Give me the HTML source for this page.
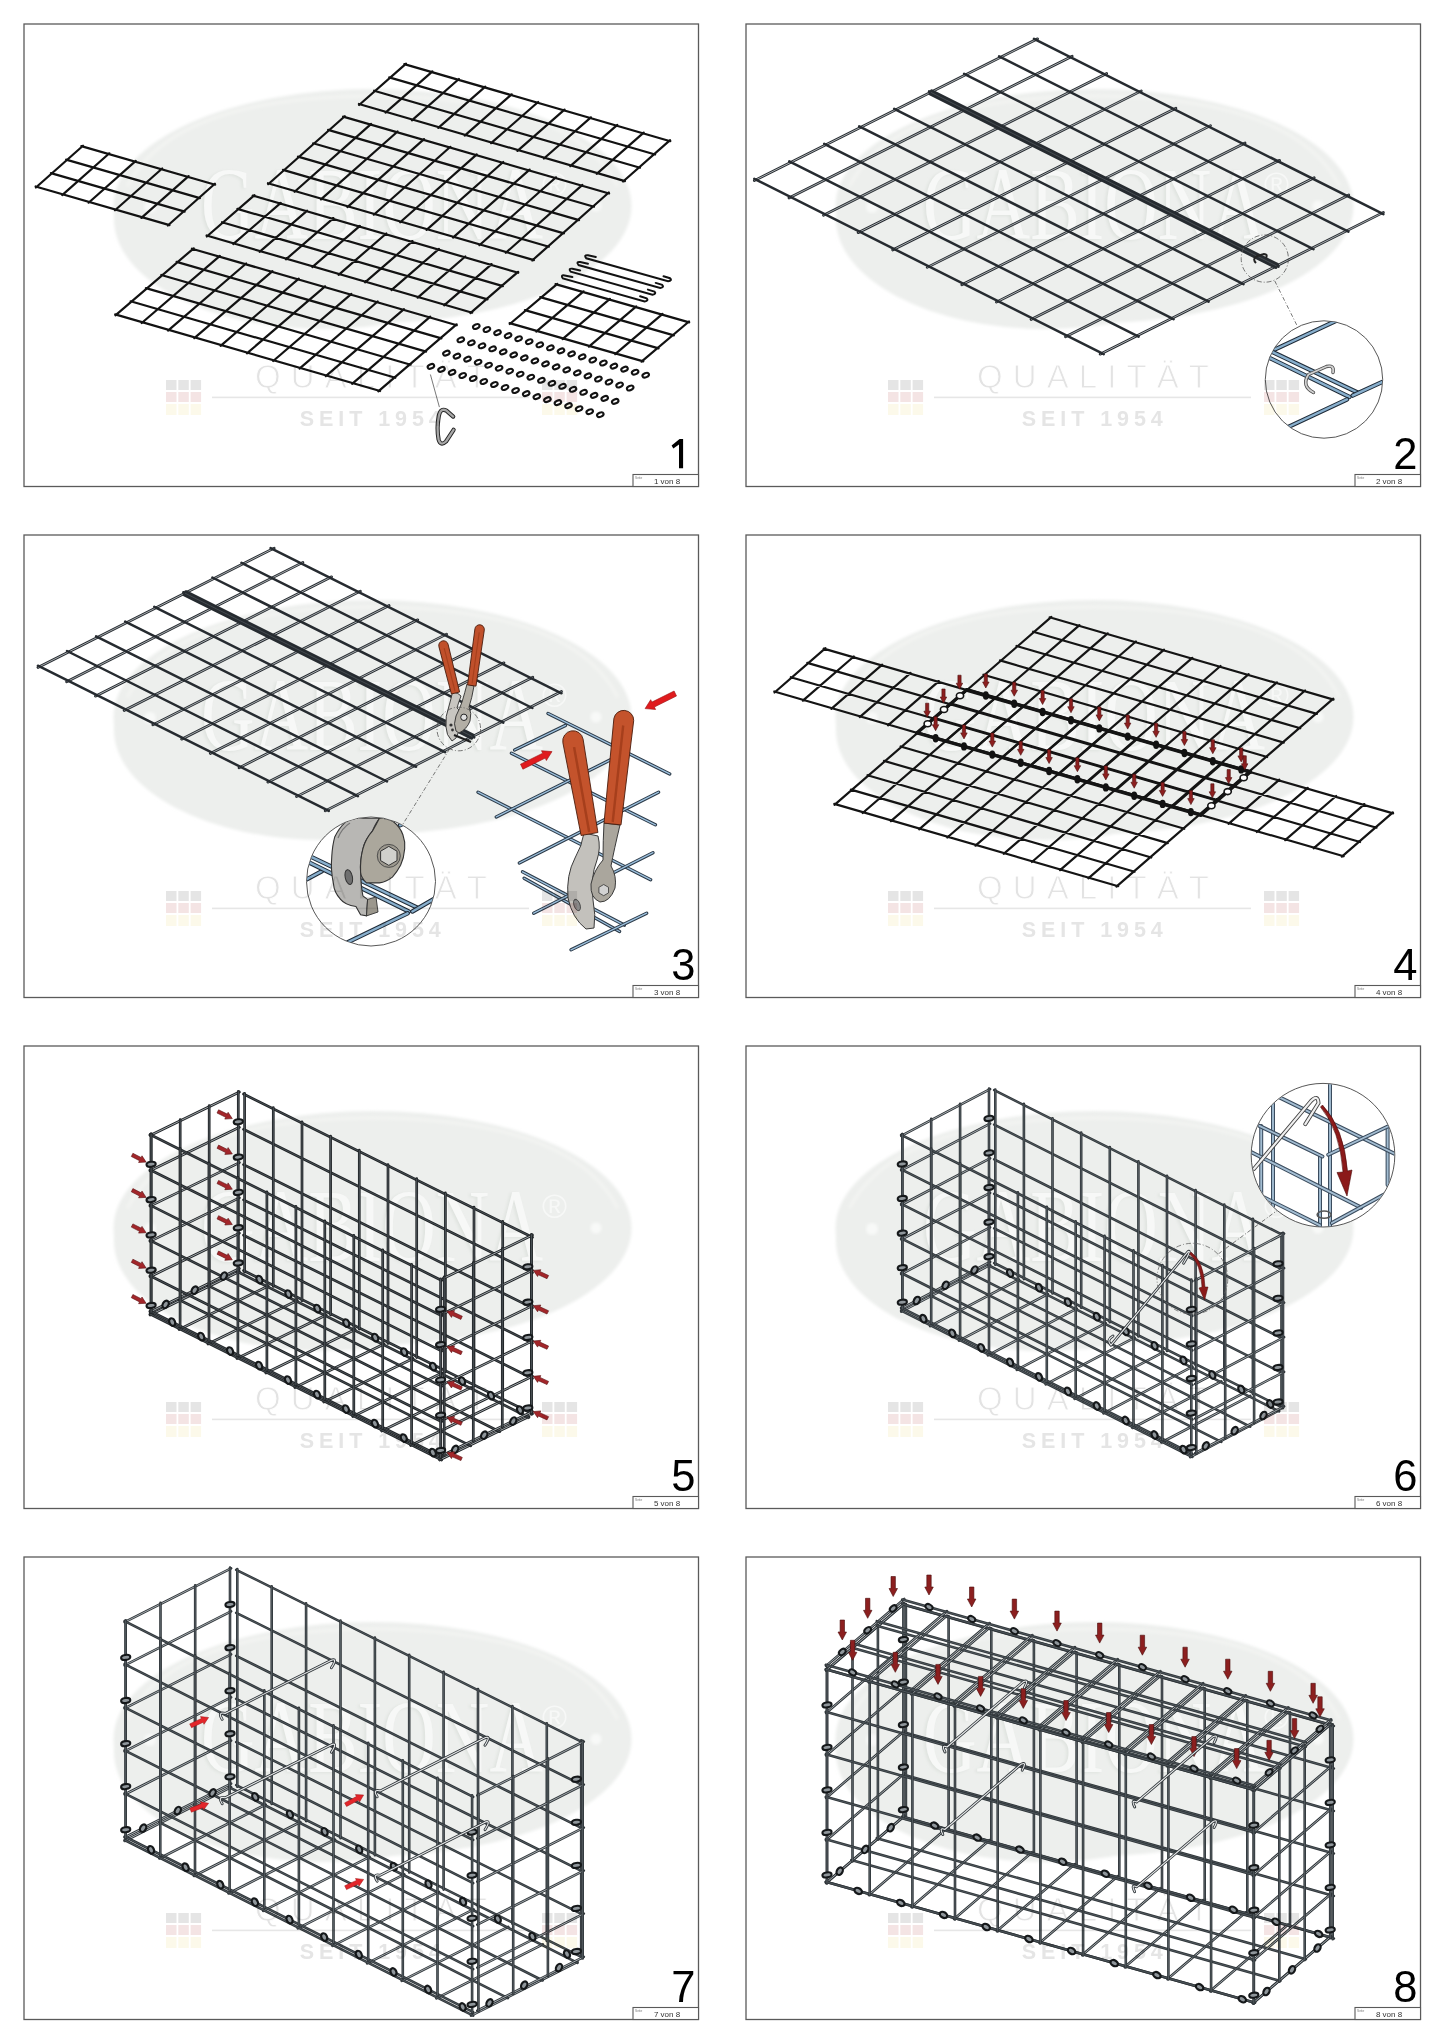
<!DOCTYPE html><html><head><meta charset="utf-8"><title>Gabiona</title><style>html,body{margin:0;padding:0;background:#fff;width:1445px;height:2043px;overflow:hidden}svg{display:block}text{font-family:"Liberation Sans",sans-serif}</style></head><body><svg width="1445" height="2043" viewBox="0 0 1445 2043"><defs><filter id="blur1" x="-5%" y="-5%" width="110%" height="110%"><feGaussianBlur stdDeviation="1.6"/></filter></defs><rect width="1445" height="2043" fill="#fff"/><g filter="url(#blur1)" fill="#edefed"><ellipse cx="372.5" cy="206.0" rx="259.0" ry="117.0"/><ellipse cx="324.0" cy="219.0" rx="210" ry="110"/></g><path d="M127.5,186.0Q173.5,97.0 372.5,96.0Q571.5,97.0 617.5,186.0" fill="none" stroke="#f3f4f2" stroke-width="3" filter="url(#blur1)"/><text x="199.0" y="240.0" style="font-family:'Liberation Serif',serif" font-size="104" fill="#dfe3df" textLength="342" lengthAdjust="spacingAndGlyphs" filter="url(#blur1)">GABIONA</text><text x="201.0" y="239.0" style="font-family:'Liberation Serif',serif" font-size="104" fill="#f7f8f7" textLength="342" lengthAdjust="spacingAndGlyphs">GABIONA</text><text x="542.0" y="196.0" font-size="34" fill="#f7f8f7">&#174;</text><circle cx="150.0" cy="207.0" r="6" fill="#f8f9f8" filter="url(#blur1)"/><circle cx="596.0" cy="206.0" r="5.5" fill="#f8f9f8" filter="url(#blur1)"/><g filter="url(#blur1)" fill="#edefed"><ellipse cx="1094.5" cy="206.0" rx="259.0" ry="117.0"/><ellipse cx="1046.0" cy="219.0" rx="210" ry="110"/></g><path d="M849.5,186.0Q895.5,97.0 1094.5,96.0Q1293.5,97.0 1339.5,186.0" fill="none" stroke="#f3f4f2" stroke-width="3" filter="url(#blur1)"/><text x="921.0" y="240.0" style="font-family:'Liberation Serif',serif" font-size="104" fill="#dfe3df" textLength="342" lengthAdjust="spacingAndGlyphs" filter="url(#blur1)">GABIONA</text><text x="923.0" y="239.0" style="font-family:'Liberation Serif',serif" font-size="104" fill="#f7f8f7" textLength="342" lengthAdjust="spacingAndGlyphs">GABIONA</text><text x="1264.0" y="196.0" font-size="34" fill="#f7f8f7">&#174;</text><circle cx="872.0" cy="207.0" r="6" fill="#f8f9f8" filter="url(#blur1)"/><circle cx="1318.0" cy="206.0" r="5.5" fill="#f8f9f8" filter="url(#blur1)"/><g filter="url(#blur1)" fill="#edefed"><ellipse cx="372.5" cy="717.0" rx="259.0" ry="117.0"/><ellipse cx="324.0" cy="730.0" rx="210" ry="110"/></g><path d="M127.5,697.0Q173.5,608.0 372.5,607.0Q571.5,608.0 617.5,697.0" fill="none" stroke="#f3f4f2" stroke-width="3" filter="url(#blur1)"/><text x="199.0" y="751.0" style="font-family:'Liberation Serif',serif" font-size="104" fill="#dfe3df" textLength="342" lengthAdjust="spacingAndGlyphs" filter="url(#blur1)">GABIONA</text><text x="201.0" y="750.0" style="font-family:'Liberation Serif',serif" font-size="104" fill="#f7f8f7" textLength="342" lengthAdjust="spacingAndGlyphs">GABIONA</text><text x="542.0" y="707.0" font-size="34" fill="#f7f8f7">&#174;</text><circle cx="150.0" cy="718.0" r="6" fill="#f8f9f8" filter="url(#blur1)"/><circle cx="596.0" cy="717.0" r="5.5" fill="#f8f9f8" filter="url(#blur1)"/><g filter="url(#blur1)" fill="#edefed"><ellipse cx="1094.5" cy="717.0" rx="259.0" ry="117.0"/><ellipse cx="1046.0" cy="730.0" rx="210" ry="110"/></g><path d="M849.5,697.0Q895.5,608.0 1094.5,607.0Q1293.5,608.0 1339.5,697.0" fill="none" stroke="#f3f4f2" stroke-width="3" filter="url(#blur1)"/><text x="921.0" y="751.0" style="font-family:'Liberation Serif',serif" font-size="104" fill="#dfe3df" textLength="342" lengthAdjust="spacingAndGlyphs" filter="url(#blur1)">GABIONA</text><text x="923.0" y="750.0" style="font-family:'Liberation Serif',serif" font-size="104" fill="#f7f8f7" textLength="342" lengthAdjust="spacingAndGlyphs">GABIONA</text><text x="1264.0" y="707.0" font-size="34" fill="#f7f8f7">&#174;</text><circle cx="872.0" cy="718.0" r="6" fill="#f8f9f8" filter="url(#blur1)"/><circle cx="1318.0" cy="717.0" r="5.5" fill="#f8f9f8" filter="url(#blur1)"/><g filter="url(#blur1)" fill="#edefed"><ellipse cx="372.5" cy="1228.0" rx="259.0" ry="117.0"/><ellipse cx="324.0" cy="1241.0" rx="210" ry="110"/></g><path d="M127.5,1208.0Q173.5,1119.0 372.5,1118.0Q571.5,1119.0 617.5,1208.0" fill="none" stroke="#f3f4f2" stroke-width="3" filter="url(#blur1)"/><text x="199.0" y="1262.0" style="font-family:'Liberation Serif',serif" font-size="104" fill="#dfe3df" textLength="342" lengthAdjust="spacingAndGlyphs" filter="url(#blur1)">GABIONA</text><text x="201.0" y="1261.0" style="font-family:'Liberation Serif',serif" font-size="104" fill="#f7f8f7" textLength="342" lengthAdjust="spacingAndGlyphs">GABIONA</text><text x="542.0" y="1218.0" font-size="34" fill="#f7f8f7">&#174;</text><circle cx="150.0" cy="1229.0" r="6" fill="#f8f9f8" filter="url(#blur1)"/><circle cx="596.0" cy="1228.0" r="5.5" fill="#f8f9f8" filter="url(#blur1)"/><g filter="url(#blur1)" fill="#edefed"><ellipse cx="1094.5" cy="1228.0" rx="259.0" ry="117.0"/><ellipse cx="1046.0" cy="1241.0" rx="210" ry="110"/></g><path d="M849.5,1208.0Q895.5,1119.0 1094.5,1118.0Q1293.5,1119.0 1339.5,1208.0" fill="none" stroke="#f3f4f2" stroke-width="3" filter="url(#blur1)"/><text x="921.0" y="1262.0" style="font-family:'Liberation Serif',serif" font-size="104" fill="#dfe3df" textLength="342" lengthAdjust="spacingAndGlyphs" filter="url(#blur1)">GABIONA</text><text x="923.0" y="1261.0" style="font-family:'Liberation Serif',serif" font-size="104" fill="#f7f8f7" textLength="342" lengthAdjust="spacingAndGlyphs">GABIONA</text><text x="1264.0" y="1218.0" font-size="34" fill="#f7f8f7">&#174;</text><circle cx="872.0" cy="1229.0" r="6" fill="#f8f9f8" filter="url(#blur1)"/><circle cx="1318.0" cy="1228.0" r="5.5" fill="#f8f9f8" filter="url(#blur1)"/><g filter="url(#blur1)" fill="#edefed"><ellipse cx="372.5" cy="1739.0" rx="259.0" ry="117.0"/><ellipse cx="324.0" cy="1752.0" rx="210" ry="110"/></g><path d="M127.5,1719.0Q173.5,1630.0 372.5,1629.0Q571.5,1630.0 617.5,1719.0" fill="none" stroke="#f3f4f2" stroke-width="3" filter="url(#blur1)"/><text x="199.0" y="1773.0" style="font-family:'Liberation Serif',serif" font-size="104" fill="#dfe3df" textLength="342" lengthAdjust="spacingAndGlyphs" filter="url(#blur1)">GABIONA</text><text x="201.0" y="1772.0" style="font-family:'Liberation Serif',serif" font-size="104" fill="#f7f8f7" textLength="342" lengthAdjust="spacingAndGlyphs">GABIONA</text><text x="542.0" y="1729.0" font-size="34" fill="#f7f8f7">&#174;</text><circle cx="150.0" cy="1740.0" r="6" fill="#f8f9f8" filter="url(#blur1)"/><circle cx="596.0" cy="1739.0" r="5.5" fill="#f8f9f8" filter="url(#blur1)"/><g filter="url(#blur1)" fill="#edefed"><ellipse cx="1094.5" cy="1739.0" rx="259.0" ry="117.0"/><ellipse cx="1046.0" cy="1752.0" rx="210" ry="110"/></g><path d="M849.5,1719.0Q895.5,1630.0 1094.5,1629.0Q1293.5,1630.0 1339.5,1719.0" fill="none" stroke="#f3f4f2" stroke-width="3" filter="url(#blur1)"/><text x="921.0" y="1773.0" style="font-family:'Liberation Serif',serif" font-size="104" fill="#dfe3df" textLength="342" lengthAdjust="spacingAndGlyphs" filter="url(#blur1)">GABIONA</text><text x="923.0" y="1772.0" style="font-family:'Liberation Serif',serif" font-size="104" fill="#f7f8f7" textLength="342" lengthAdjust="spacingAndGlyphs">GABIONA</text><text x="1264.0" y="1729.0" font-size="34" fill="#f7f8f7">&#174;</text><circle cx="872.0" cy="1740.0" r="6" fill="#f8f9f8" filter="url(#blur1)"/><circle cx="1318.0" cy="1739.0" r="5.5" fill="#f8f9f8" filter="url(#blur1)"/><path d="M83.0,145.7L35.9,187.5M109.4,153.3L62.2,195.1M135.8,160.9L88.6,202.7M162.2,168.5L115.0,210.3M188.6,176.1L141.4,217.9M214.9,183.7L167.8,225.5M81.3,146.1L215.2,184.7M66.1,159.6L199.9,198.1M50.9,173.1L184.7,211.6M35.6,186.5L169.5,225.1" stroke="#121212" stroke-width="2.2" fill="none" stroke-linecap="round"/><path d="M406.1,63.7L359.1,105.0M432.5,71.4L385.5,112.6M458.9,79.0L411.9,120.3M485.3,86.7L438.3,127.9M511.7,94.3L464.7,135.6M538.1,102.0L491.1,143.2M564.5,109.6L517.5,150.9M590.9,117.3L543.9,158.5M617.3,124.9L570.3,166.2M643.7,132.6L596.7,173.8M670.1,140.2L623.1,181.5M404.3,64.1L670.3,141.2M389.2,77.4L655.1,154.5M374.1,90.7L640.0,167.8M358.9,104.0L624.9,181.1" stroke="#121212" stroke-width="2.2" fill="none" stroke-linecap="round"/><path d="M344.8,116.2L268.2,184.2M371.2,123.9L294.6,191.8M397.6,131.5L321.0,199.4M424.0,139.1L347.4,207.1M450.4,146.8L373.8,214.7M476.8,154.4L400.2,222.3M503.2,162.0L426.6,229.9M529.6,169.6L453.0,237.6M556.0,177.3L479.4,245.2M582.4,184.9L505.8,252.8M608.8,192.5L532.2,260.5M343.1,116.6L609.1,193.5M328.1,129.9L594.0,206.8M313.1,143.3L579.0,220.1M298.0,156.6L563.9,233.4M283.0,169.9L548.9,246.8M267.9,183.2L533.9,260.1" stroke="#121212" stroke-width="2.2" fill="none" stroke-linecap="round"/><path d="M254.5,195.2L206.8,236.5M280.8,202.9L233.2,244.1M307.2,210.6L259.6,251.8M333.5,218.2L285.9,259.4M359.9,225.9L312.3,267.1M386.3,233.5L338.6,274.8M412.6,241.2L365.0,282.4M439.0,248.9L391.4,290.1M465.3,256.5L417.7,297.7M491.7,264.2L444.1,305.4M518.1,271.8L470.4,313.1M252.7,195.6L518.3,272.8M237.4,208.9L502.9,286.1M222.0,222.2L487.5,299.4M206.6,235.5L472.2,312.7" stroke="#121212" stroke-width="2.2" fill="none" stroke-linecap="round"/><path d="M193.7,248.3L115.4,315.4M219.9,255.9L141.7,323.0M246.2,263.5L168.0,330.6M272.5,271.1L194.3,338.2M298.8,278.7L220.6,345.8M325.1,286.3L246.9,353.4M351.4,293.9L273.2,361.0M377.7,301.5L299.5,368.6M404.0,309.1L325.8,376.2M430.3,316.7L352.1,383.8M456.6,324.3L378.3,391.4M191.9,248.7L456.8,325.3M176.6,261.9L441.4,338.4M161.3,275.0L426.1,351.6M145.9,288.1L410.7,364.7M130.6,301.3L395.4,377.8M115.2,314.4L380.1,391.0" stroke="#121212" stroke-width="2.2" fill="none" stroke-linecap="round"/><path d="M557.3,283.8L509.8,324.0M583.6,291.3L536.2,331.6M609.9,298.8L562.5,339.1M636.3,306.4L588.9,346.7M662.6,313.9L615.2,354.2M689.0,321.5L641.5,361.7M555.5,284.1L689.2,322.4M540.2,297.1L673.9,335.4M524.9,310.1L658.6,348.4M509.6,323.1L643.3,361.4" stroke="#121212" stroke-width="2.2" fill="none" stroke-linecap="round"/><path d="M595.8,257.0L588.0,255.3Q583.5,254.8 586.3,258.3L668.0,281.3Q672.5,280.5 670.0,278.2L663.5,276.2" stroke="#121212" stroke-width="2.0" fill="none" stroke-linecap="round"/><path d="M588.0,263.7L580.2,262.0Q575.7,261.5 578.5,265.0L660.2,288.0Q664.7,287.2 662.2,284.9L655.7,282.9" stroke="#121212" stroke-width="2.0" fill="none" stroke-linecap="round"/><path d="M580.2,270.4L572.4,268.7Q567.9,268.2 570.7,271.7L652.4,294.7Q656.9,293.9 654.4,291.6L647.9,289.6" stroke="#121212" stroke-width="2.0" fill="none" stroke-linecap="round"/><path d="M572.4,277.1L564.6,275.4Q560.1,274.9 562.9,278.4L644.6,301.4Q649.1,300.6 646.6,298.3L640.1,296.3" stroke="#121212" stroke-width="2.0" fill="none" stroke-linecap="round"/><ellipse cx="476.3" cy="326.5" rx="3.4" ry="2.1" transform="rotate(-22 476.3 326.5)" fill="#fff" stroke="#121212" stroke-width="2.1"/><ellipse cx="486.9" cy="329.5" rx="3.4" ry="2.1" transform="rotate(-22 486.9 329.5)" fill="#fff" stroke="#121212" stroke-width="2.1"/><ellipse cx="497.5" cy="332.6" rx="3.4" ry="2.1" transform="rotate(-22 497.5 332.6)" fill="#fff" stroke="#121212" stroke-width="2.1"/><ellipse cx="508.1" cy="335.6" rx="3.4" ry="2.1" transform="rotate(-22 508.1 335.6)" fill="#fff" stroke="#121212" stroke-width="2.1"/><ellipse cx="518.6" cy="338.7" rx="3.4" ry="2.1" transform="rotate(-22 518.6 338.7)" fill="#fff" stroke="#121212" stroke-width="2.1"/><ellipse cx="529.2" cy="341.7" rx="3.4" ry="2.1" transform="rotate(-22 529.2 341.7)" fill="#fff" stroke="#121212" stroke-width="2.1"/><ellipse cx="539.8" cy="344.8" rx="3.4" ry="2.1" transform="rotate(-22 539.8 344.8)" fill="#fff" stroke="#121212" stroke-width="2.1"/><ellipse cx="550.4" cy="347.8" rx="3.4" ry="2.1" transform="rotate(-22 550.4 347.8)" fill="#fff" stroke="#121212" stroke-width="2.1"/><ellipse cx="561.0" cy="350.9" rx="3.4" ry="2.1" transform="rotate(-22 561.0 350.9)" fill="#fff" stroke="#121212" stroke-width="2.1"/><ellipse cx="571.6" cy="353.9" rx="3.4" ry="2.1" transform="rotate(-22 571.6 353.9)" fill="#fff" stroke="#121212" stroke-width="2.1"/><ellipse cx="582.2" cy="356.9" rx="3.4" ry="2.1" transform="rotate(-22 582.2 356.9)" fill="#fff" stroke="#121212" stroke-width="2.1"/><ellipse cx="592.8" cy="360.0" rx="3.4" ry="2.1" transform="rotate(-22 592.8 360.0)" fill="#fff" stroke="#121212" stroke-width="2.1"/><ellipse cx="603.4" cy="363.0" rx="3.4" ry="2.1" transform="rotate(-22 603.4 363.0)" fill="#fff" stroke="#121212" stroke-width="2.1"/><ellipse cx="613.9" cy="366.1" rx="3.4" ry="2.1" transform="rotate(-22 613.9 366.1)" fill="#fff" stroke="#121212" stroke-width="2.1"/><ellipse cx="624.5" cy="369.1" rx="3.4" ry="2.1" transform="rotate(-22 624.5 369.1)" fill="#fff" stroke="#121212" stroke-width="2.1"/><ellipse cx="635.1" cy="372.2" rx="3.4" ry="2.1" transform="rotate(-22 635.1 372.2)" fill="#fff" stroke="#121212" stroke-width="2.1"/><ellipse cx="645.7" cy="375.2" rx="3.4" ry="2.1" transform="rotate(-22 645.7 375.2)" fill="#fff" stroke="#121212" stroke-width="2.1"/><ellipse cx="460.8" cy="339.8" rx="3.4" ry="2.1" transform="rotate(-22 460.8 339.8)" fill="#fff" stroke="#121212" stroke-width="2.1"/><ellipse cx="471.4" cy="342.8" rx="3.4" ry="2.1" transform="rotate(-22 471.4 342.8)" fill="#fff" stroke="#121212" stroke-width="2.1"/><ellipse cx="482.0" cy="345.8" rx="3.4" ry="2.1" transform="rotate(-22 482.0 345.8)" fill="#fff" stroke="#121212" stroke-width="2.1"/><ellipse cx="492.6" cy="348.8" rx="3.4" ry="2.1" transform="rotate(-22 492.6 348.8)" fill="#fff" stroke="#121212" stroke-width="2.1"/><ellipse cx="503.2" cy="351.9" rx="3.4" ry="2.1" transform="rotate(-22 503.2 351.9)" fill="#fff" stroke="#121212" stroke-width="2.1"/><ellipse cx="513.7" cy="354.9" rx="3.4" ry="2.1" transform="rotate(-22 513.7 354.9)" fill="#fff" stroke="#121212" stroke-width="2.1"/><ellipse cx="524.3" cy="357.9" rx="3.4" ry="2.1" transform="rotate(-22 524.3 357.9)" fill="#fff" stroke="#121212" stroke-width="2.1"/><ellipse cx="534.9" cy="360.9" rx="3.4" ry="2.1" transform="rotate(-22 534.9 360.9)" fill="#fff" stroke="#121212" stroke-width="2.1"/><ellipse cx="545.5" cy="363.9" rx="3.4" ry="2.1" transform="rotate(-22 545.5 363.9)" fill="#fff" stroke="#121212" stroke-width="2.1"/><ellipse cx="556.1" cy="366.9" rx="3.4" ry="2.1" transform="rotate(-22 556.1 366.9)" fill="#fff" stroke="#121212" stroke-width="2.1"/><ellipse cx="566.7" cy="369.9" rx="3.4" ry="2.1" transform="rotate(-22 566.7 369.9)" fill="#fff" stroke="#121212" stroke-width="2.1"/><ellipse cx="577.3" cy="372.9" rx="3.4" ry="2.1" transform="rotate(-22 577.3 372.9)" fill="#fff" stroke="#121212" stroke-width="2.1"/><ellipse cx="587.9" cy="375.9" rx="3.4" ry="2.1" transform="rotate(-22 587.9 375.9)" fill="#fff" stroke="#121212" stroke-width="2.1"/><ellipse cx="598.4" cy="379.0" rx="3.4" ry="2.1" transform="rotate(-22 598.4 379.0)" fill="#fff" stroke="#121212" stroke-width="2.1"/><ellipse cx="609.0" cy="382.0" rx="3.4" ry="2.1" transform="rotate(-22 609.0 382.0)" fill="#fff" stroke="#121212" stroke-width="2.1"/><ellipse cx="619.6" cy="385.0" rx="3.4" ry="2.1" transform="rotate(-22 619.6 385.0)" fill="#fff" stroke="#121212" stroke-width="2.1"/><ellipse cx="630.2" cy="388.0" rx="3.4" ry="2.1" transform="rotate(-22 630.2 388.0)" fill="#fff" stroke="#121212" stroke-width="2.1"/><ellipse cx="446.4" cy="353.1" rx="3.4" ry="2.1" transform="rotate(-22 446.4 353.1)" fill="#fff" stroke="#121212" stroke-width="2.1"/><ellipse cx="456.9" cy="356.1" rx="3.4" ry="2.1" transform="rotate(-22 456.9 356.1)" fill="#fff" stroke="#121212" stroke-width="2.1"/><ellipse cx="467.5" cy="359.1" rx="3.4" ry="2.1" transform="rotate(-22 467.5 359.1)" fill="#fff" stroke="#121212" stroke-width="2.1"/><ellipse cx="478.1" cy="362.2" rx="3.4" ry="2.1" transform="rotate(-22 478.1 362.2)" fill="#fff" stroke="#121212" stroke-width="2.1"/><ellipse cx="488.6" cy="365.2" rx="3.4" ry="2.1" transform="rotate(-22 488.6 365.2)" fill="#fff" stroke="#121212" stroke-width="2.1"/><ellipse cx="499.1" cy="368.2" rx="3.4" ry="2.1" transform="rotate(-22 499.1 368.2)" fill="#fff" stroke="#121212" stroke-width="2.1"/><ellipse cx="509.7" cy="371.2" rx="3.4" ry="2.1" transform="rotate(-22 509.7 371.2)" fill="#fff" stroke="#121212" stroke-width="2.1"/><ellipse cx="520.2" cy="374.2" rx="3.4" ry="2.1" transform="rotate(-22 520.2 374.2)" fill="#fff" stroke="#121212" stroke-width="2.1"/><ellipse cx="530.8" cy="377.2" rx="3.4" ry="2.1" transform="rotate(-22 530.8 377.2)" fill="#fff" stroke="#121212" stroke-width="2.1"/><ellipse cx="541.4" cy="380.3" rx="3.4" ry="2.1" transform="rotate(-22 541.4 380.3)" fill="#fff" stroke="#121212" stroke-width="2.1"/><ellipse cx="551.9" cy="383.3" rx="3.4" ry="2.1" transform="rotate(-22 551.9 383.3)" fill="#fff" stroke="#121212" stroke-width="2.1"/><ellipse cx="562.5" cy="386.3" rx="3.4" ry="2.1" transform="rotate(-22 562.5 386.3)" fill="#fff" stroke="#121212" stroke-width="2.1"/><ellipse cx="573.0" cy="389.3" rx="3.4" ry="2.1" transform="rotate(-22 573.0 389.3)" fill="#fff" stroke="#121212" stroke-width="2.1"/><ellipse cx="583.6" cy="392.3" rx="3.4" ry="2.1" transform="rotate(-22 583.6 392.3)" fill="#fff" stroke="#121212" stroke-width="2.1"/><ellipse cx="594.1" cy="395.4" rx="3.4" ry="2.1" transform="rotate(-22 594.1 395.4)" fill="#fff" stroke="#121212" stroke-width="2.1"/><ellipse cx="604.7" cy="398.4" rx="3.4" ry="2.1" transform="rotate(-22 604.7 398.4)" fill="#fff" stroke="#121212" stroke-width="2.1"/><ellipse cx="615.2" cy="401.4" rx="3.4" ry="2.1" transform="rotate(-22 615.2 401.4)" fill="#fff" stroke="#121212" stroke-width="2.1"/><ellipse cx="430.9" cy="366.4" rx="3.4" ry="2.1" transform="rotate(-22 430.9 366.4)" fill="#fff" stroke="#121212" stroke-width="2.1"/><ellipse cx="441.5" cy="369.4" rx="3.4" ry="2.1" transform="rotate(-22 441.5 369.4)" fill="#fff" stroke="#121212" stroke-width="2.1"/><ellipse cx="452.1" cy="372.4" rx="3.4" ry="2.1" transform="rotate(-22 452.1 372.4)" fill="#fff" stroke="#121212" stroke-width="2.1"/><ellipse cx="462.7" cy="375.5" rx="3.4" ry="2.1" transform="rotate(-22 462.7 375.5)" fill="#fff" stroke="#121212" stroke-width="2.1"/><ellipse cx="473.2" cy="378.5" rx="3.4" ry="2.1" transform="rotate(-22 473.2 378.5)" fill="#fff" stroke="#121212" stroke-width="2.1"/><ellipse cx="483.8" cy="381.5" rx="3.4" ry="2.1" transform="rotate(-22 483.8 381.5)" fill="#fff" stroke="#121212" stroke-width="2.1"/><ellipse cx="494.4" cy="384.5" rx="3.4" ry="2.1" transform="rotate(-22 494.4 384.5)" fill="#fff" stroke="#121212" stroke-width="2.1"/><ellipse cx="505.0" cy="387.5" rx="3.4" ry="2.1" transform="rotate(-22 505.0 387.5)" fill="#fff" stroke="#121212" stroke-width="2.1"/><ellipse cx="515.6" cy="390.5" rx="3.4" ry="2.1" transform="rotate(-22 515.6 390.5)" fill="#fff" stroke="#121212" stroke-width="2.1"/><ellipse cx="526.2" cy="393.6" rx="3.4" ry="2.1" transform="rotate(-22 526.2 393.6)" fill="#fff" stroke="#121212" stroke-width="2.1"/><ellipse cx="536.8" cy="396.6" rx="3.4" ry="2.1" transform="rotate(-22 536.8 396.6)" fill="#fff" stroke="#121212" stroke-width="2.1"/><ellipse cx="547.4" cy="399.6" rx="3.4" ry="2.1" transform="rotate(-22 547.4 399.6)" fill="#fff" stroke="#121212" stroke-width="2.1"/><ellipse cx="557.9" cy="402.6" rx="3.4" ry="2.1" transform="rotate(-22 557.9 402.6)" fill="#fff" stroke="#121212" stroke-width="2.1"/><ellipse cx="568.5" cy="405.6" rx="3.4" ry="2.1" transform="rotate(-22 568.5 405.6)" fill="#fff" stroke="#121212" stroke-width="2.1"/><ellipse cx="579.1" cy="408.7" rx="3.4" ry="2.1" transform="rotate(-22 579.1 408.7)" fill="#fff" stroke="#121212" stroke-width="2.1"/><ellipse cx="589.7" cy="411.7" rx="3.4" ry="2.1" transform="rotate(-22 589.7 411.7)" fill="#fff" stroke="#121212" stroke-width="2.1"/><ellipse cx="600.3" cy="414.7" rx="3.4" ry="2.1" transform="rotate(-22 600.3 414.7)" fill="#fff" stroke="#121212" stroke-width="2.1"/><line x1="430.4" y1="374.5" x2="439.4" y2="407.1" stroke="#555" stroke-width="0.8" /><path d="M453.2,416.6L446.4,410.6Q440.5,407.5 438.8,416Q436.5,428 438.6,439.5Q440.5,446.5 446,441.5L453.6,429.8" stroke="#222" stroke-width="4.2" fill="none" stroke-linecap="round" stroke-linejoin="round"/><path d="M453.2,416.6L446.4,410.6Q440.5,407.5 438.8,416Q436.5,428 438.6,439.5Q440.5,446.5 446,441.5L453.6,429.8" stroke="#a8a8a8" stroke-width="2.3" fill="none" stroke-linecap="round" stroke-linejoin="round"/><path d="M754.3,180.6L1037.6,38.8M788.9,198.0L1072.2,56.2M823.5,215.3L1106.7,73.5M858.1,232.7L1141.3,90.9M892.6,250.0L1175.9,108.2M927.2,267.4L1210.5,125.6M961.8,284.8L1245.1,143.0M996.4,302.1L1279.6,160.3M1031.0,319.5L1314.2,177.7M1065.5,336.8L1348.8,195.0M1100.1,354.2L1383.4,212.4" stroke="#262b30" stroke-width="2.7" fill="none" stroke-linecap="round"/><path d="M754.3,180.6L1037.6,38.8M788.9,198.0L1072.2,56.2M823.5,215.3L1106.7,73.5M858.1,232.7L1141.3,90.9M892.6,250.0L1175.9,108.2M927.2,267.4L1210.5,125.6M961.8,284.8L1245.1,143.0M996.4,302.1L1279.6,160.3M1031.0,319.5L1314.2,177.7M1065.5,336.8L1348.8,195.0M1100.1,354.2L1383.4,212.4" stroke="#c9ced1" stroke-width="0.8" fill="none"/><path d="M754.3,178.8L1103.7,354.2M789.3,161.3L1138.6,336.7M824.2,143.8L1173.6,319.2M859.2,126.3L1208.6,301.7M894.2,108.8L1243.5,284.2M929.1,91.3L1278.5,266.7M964.1,73.8L1313.5,249.2M999.1,56.3L1348.4,231.7M1034.0,38.8L1383.4,214.2" stroke="#262b30" stroke-width="2.5" fill="none" stroke-linecap="round"/><line x1="931.6" y1="90.9" x2="1277.4" y2="264.5" stroke="#262b30" stroke-width="3.2" stroke-linecap="round"/><line x1="930.1" y1="93.8" x2="1275.9" y2="267.4" stroke="#262b30" stroke-width="3.2" stroke-linecap="round"/><line x1="930.8" y1="92.3" x2="1276.6" y2="265.9" stroke="#5d6368" stroke-width="0.6" /><circle cx="1264.8" cy="258.6" r="23.6" fill="none" stroke="#555" stroke-width="0.8" stroke-dasharray="5 2 1 2"/><line x1="1274.8" y1="281.0" x2="1297.2" y2="325.9" stroke="#555" stroke-width="0.8" stroke-dasharray="4 2 1 2"/><path d="M1256,263Q1252,259 1257,256L1264,254Q1268,254 1266,258" stroke="#222" stroke-width="2" fill="none"/><defs><clipPath id="c2"><circle cx="1324" cy="379.5" r="58.2"/></clipPath></defs><circle cx="1324" cy="379.5" r="58.7" fill="#fff" stroke="#444" stroke-width="0.9"/><g clip-path="url(#c2)"><line x1="1274.8" y1="349.5" x2="1340.0" y2="319.0" stroke="#1f2b38" stroke-width="4.4" stroke-linecap="round"/><line x1="1274.8" y1="349.5" x2="1340.0" y2="319.0" stroke="#88afcd" stroke-width="2.4" stroke-linecap="round"/><line x1="1262.0" y1="347.0" x2="1357.6" y2="392.5" stroke="#1f2b38" stroke-width="4.4" stroke-linecap="round"/><line x1="1262.0" y1="347.0" x2="1357.6" y2="392.5" stroke="#88afcd" stroke-width="2.4" stroke-linecap="round"/><line x1="1260.0" y1="353.3" x2="1349.5" y2="396.9" stroke="#1f2b38" stroke-width="4.4" stroke-linecap="round"/><line x1="1260.0" y1="353.3" x2="1349.5" y2="396.9" stroke="#88afcd" stroke-width="2.4" stroke-linecap="round"/><line x1="1352.7" y1="395.6" x2="1392.0" y2="377.5" stroke="#1f2b38" stroke-width="4.4" stroke-linecap="round"/><line x1="1352.7" y1="395.6" x2="1392.0" y2="377.5" stroke="#88afcd" stroke-width="2.4" stroke-linecap="round"/><line x1="1347.0" y1="399.4" x2="1285.0" y2="428.5" stroke="#1f2b38" stroke-width="4.4" stroke-linecap="round"/><line x1="1347.0" y1="399.4" x2="1285.0" y2="428.5" stroke="#88afcd" stroke-width="2.4" stroke-linecap="round"/><path d="M1313.5,392.5Q1301,386 1308.5,374.5L1326.5,366.5Q1334.5,364.5 1333,372.5" stroke="#4a4a4a" stroke-width="3.4" fill="none" stroke-linecap="round"/><path d="M1313.5,392.5Q1301,386 1308.5,374.5L1326.5,366.5Q1334.5,364.5 1333,372.5" stroke="#d0d0d0" stroke-width="1.8" fill="none" stroke-linecap="round"/></g><path d="M37.9,667.5L274.2,548.1M66.6,681.8L302.9,562.4M95.4,696.2L331.6,576.8M124.1,710.5L360.4,591.1M152.8,724.9L389.1,605.5M181.6,739.2L417.8,619.8M210.3,753.5L446.6,634.1M239.0,767.9L475.3,648.5M267.8,782.2L504.0,662.8M296.5,796.6L532.8,677.2M325.2,810.9L561.5,691.5" stroke="#262b30" stroke-width="2.7" fill="none" stroke-linecap="round"/><path d="M37.9,667.5L274.2,548.1M66.6,681.8L302.9,562.4M95.4,696.2L331.6,576.8M124.1,710.5L360.4,591.1M152.8,724.9L389.1,605.5M181.6,739.2L417.8,619.8M210.3,753.5L446.6,634.1M239.0,767.9L475.3,648.5M267.8,782.2L504.0,662.8M296.5,796.6L532.8,677.2M325.2,810.9L561.5,691.5" stroke="#c9ced1" stroke-width="0.8" fill="none"/><path d="M37.9,665.7L328.8,810.9M67.0,651.0L357.9,796.2M96.1,636.3L387.0,781.5M125.2,621.6L416.1,766.8M154.3,606.9L445.1,752.1M183.3,592.2L474.2,737.4M212.4,577.5L503.3,722.7M241.5,562.8L532.4,708.0M270.6,548.1L561.5,693.3" stroke="#262b30" stroke-width="2.5" fill="none" stroke-linecap="round"/><line x1="185.8" y1="591.8" x2="473.1" y2="735.2" stroke="#262b30" stroke-width="3.2" stroke-linecap="round"/><line x1="184.3" y1="594.7" x2="471.6" y2="738.1" stroke="#262b30" stroke-width="3.2" stroke-linecap="round"/><line x1="185.1" y1="593.2" x2="472.4" y2="736.6" stroke="#5d6368" stroke-width="0.6" /><path d="M452.5,692Q459,693 461,696Q458,704 457,708Q463,712 462,720Q460,730 456,738L452,741Q446,735 446,727Q445,716 449,706Q451,699 452.5,692Z" fill="#c8c6c1" stroke="#2e2e2e" stroke-width="0.9"/><path d="M467,684L474,686Q472,698 469,707Q472,713 470,721Q467,729 459,733L456,731Q453,724 456,716Q460,708 462,702Q465,692 467,684Z" fill="#b3afa6" stroke="#2e2e2e" stroke-width="0.9"/><circle cx="463.9" cy="717.3" r="3.2" fill="#e0e0e0" stroke="#222" stroke-width="1"/><circle cx="451" cy="725" r="1.6" fill="#333"/><circle cx="452.5" cy="730" r="1.4" fill="#333"/><path d="M454,735L471,742" stroke="#1d1d1d" stroke-width="2.2"/><path d="M438.9,646.7A4.7,4.7 0 0 1 448.1,644.3L459.6,692.0L451.4,694.0Z" fill="#c0502b" stroke="#4a1c0c" stroke-width="0.9"/><line x1="444.2" y1="648.2" x2="455.0" y2="691.1" stroke="#a63f1c" stroke-width="1.128" /><path d="M474.9,628.9A4.7,4.7 0 0 1 484.3,630.1L476.0,686.1L467.6,684.9Z" fill="#c0502b" stroke="#4a1c0c" stroke-width="0.9"/><line x1="479.2" y1="632.3" x2="472.1" y2="683.5" stroke="#a63f1c" stroke-width="1.128" /><circle cx="458.8" cy="729" r="21.8" fill="none" stroke="#555" stroke-width="0.8" stroke-dasharray="5 2 1 2"/><line x1="449.5" y1="749.0" x2="403.0" y2="824.0" stroke="#555" stroke-width="0.8" stroke-dasharray="4 2 1 2"/><defs><clipPath id="c3"><circle cx="371" cy="881.5" r="64"/></clipPath></defs><circle cx="371" cy="881.5" r="64.5" fill="#fff" stroke="#444" stroke-width="0.9"/><g clip-path="url(#c3)"><line x1="300.0" y1="883.0" x2="321.8" y2="871.2" stroke="#1f2b38" stroke-width="4.4" stroke-linecap="round"/><line x1="300.0" y1="883.0" x2="321.8" y2="871.2" stroke="#88afcd" stroke-width="2.4" stroke-linecap="round"/><line x1="300.0" y1="851.5" x2="417.0" y2="907.5" stroke="#1f2b38" stroke-width="4.4" stroke-linecap="round"/><line x1="300.0" y1="851.5" x2="417.0" y2="907.5" stroke="#88afcd" stroke-width="2.4" stroke-linecap="round"/><line x1="298.0" y1="857.0" x2="408.8" y2="911.5" stroke="#1f2b38" stroke-width="4.4" stroke-linecap="round"/><line x1="298.0" y1="857.0" x2="408.8" y2="911.5" stroke="#88afcd" stroke-width="2.4" stroke-linecap="round"/><line x1="412.4" y1="911.5" x2="440.0" y2="895.5" stroke="#1f2b38" stroke-width="4.4" stroke-linecap="round"/><line x1="412.4" y1="911.5" x2="440.0" y2="895.5" stroke="#88afcd" stroke-width="2.4" stroke-linecap="round"/><line x1="407.6" y1="913.3" x2="340.0" y2="946.0" stroke="#1f2b38" stroke-width="4.4" stroke-linecap="round"/><line x1="407.6" y1="913.3" x2="340.0" y2="946.0" stroke="#88afcd" stroke-width="2.4" stroke-linecap="round"/><line x1="400.0" y1="825.3" x2="415.0" y2="818.0" stroke="#1f2b38" stroke-width="4.4" stroke-linecap="round"/><line x1="400.0" y1="825.3" x2="415.0" y2="818.0" stroke="#88afcd" stroke-width="2.4" stroke-linecap="round"/><path d="M345.3,822.4Q350,818.5 355.9,818.2L379.4,818.2Q374,826 372.4,831.2Q364,842 362.9,848.8Q359.5,862 360.6,872.4Q361,886 362.9,895.9L367.6,899.4L366.5,915.9L360.6,914.7L355.9,906.5Q345,905 340.6,899.4Q334,892 333.5,884.1Q330.5,870 331.8,855.9Q332.5,845 334.7,837.1Q339,828 345.3,822.4Z" fill="#b8b7b4" stroke="#333" stroke-width="1.1"/><path d="M338,838Q342,828 350,823" fill="none" stroke="#777" stroke-width="1.2"/><path d="M379.4,818.2Q388,818.5 393.5,821.8Q400,827 402.9,834.7Q405.5,842 404.7,848.8Q404,858 400.6,865.3Q397,872 392.4,877.1Q386,882 379.4,882.9L366.5,882.9Q361,878 360.6,872.4Q360,860 362.9,848.8Q366,838 372.4,831.2Q376,825 379.4,818.2Z" fill="#aba79c" stroke="#333" stroke-width="1.1"/><circle cx="388.8" cy="855.9" r="11.5" fill="#9d998f" stroke="#444" stroke-width="0.9"/><polygon points="388.8,846.4 397,851.2 397,860.6 388.8,865.4 380.6,860.6 380.6,851.2" fill="#d0d0cc" stroke="#333" stroke-width="1"/><ellipse cx="348.8" cy="877.1" rx="3.6" ry="7.5" transform="rotate(-12 348.8 877.1)" fill="#6f6f6f" stroke="#333" stroke-width="1"/><path d="M367.6,899.4L376,897L378,912L366.5,915.9Z" fill="#9b978d" stroke="#333" stroke-width="0.9"/></g><line x1="548.0" y1="713.4" x2="669.7" y2="773.9" stroke="#2c3a48" stroke-width="3.4" stroke-linecap="round"/><line x1="548.0" y1="713.4" x2="669.7" y2="773.9" stroke="#9dc1de" stroke-width="1.3" stroke-linecap="round"/><line x1="511.4" y1="753.2" x2="655.4" y2="824.8" stroke="#2c3a48" stroke-width="3.4" stroke-linecap="round"/><line x1="511.4" y1="753.2" x2="655.4" y2="824.8" stroke="#9dc1de" stroke-width="1.3" stroke-linecap="round"/><line x1="478.0" y1="792.2" x2="650.6" y2="879.7" stroke="#2c3a48" stroke-width="3.4" stroke-linecap="round"/><line x1="478.0" y1="792.2" x2="650.6" y2="879.7" stroke="#9dc1de" stroke-width="1.3" stroke-linecap="round"/><line x1="522.5" y1="871.8" x2="624.4" y2="925.1" stroke="#2c3a48" stroke-width="3.4" stroke-linecap="round"/><line x1="522.5" y1="871.8" x2="624.4" y2="925.1" stroke="#9dc1de" stroke-width="1.3" stroke-linecap="round"/><line x1="524.1" y1="878.2" x2="619.6" y2="931.5" stroke="#2c3a48" stroke-width="3.4" stroke-linecap="round"/><line x1="524.1" y1="878.2" x2="619.6" y2="931.5" stroke="#9dc1de" stroke-width="1.3" stroke-linecap="round"/><line x1="514.6" y1="750.0" x2="565.5" y2="725.4" stroke="#2c3a48" stroke-width="3.4" stroke-linecap="round"/><line x1="514.6" y1="750.0" x2="565.5" y2="725.4" stroke="#9dc1de" stroke-width="1.3" stroke-linecap="round"/><line x1="496.3" y1="816.9" x2="610.9" y2="759.6" stroke="#2c3a48" stroke-width="3.4" stroke-linecap="round"/><line x1="496.3" y1="816.9" x2="610.9" y2="759.6" stroke="#9dc1de" stroke-width="1.3" stroke-linecap="round"/><line x1="519.3" y1="863.0" x2="658.6" y2="792.2" stroke="#2c3a48" stroke-width="3.4" stroke-linecap="round"/><line x1="519.3" y1="863.0" x2="658.6" y2="792.2" stroke="#9dc1de" stroke-width="1.3" stroke-linecap="round"/><line x1="533.7" y1="913.2" x2="653.0" y2="852.7" stroke="#2c3a48" stroke-width="3.4" stroke-linecap="round"/><line x1="533.7" y1="913.2" x2="653.0" y2="852.7" stroke="#9dc1de" stroke-width="1.3" stroke-linecap="round"/><line x1="571.0" y1="949.8" x2="646.7" y2="913.2" stroke="#2c3a48" stroke-width="3.4" stroke-linecap="round"/><line x1="571.0" y1="949.8" x2="646.7" y2="913.2" stroke="#9dc1de" stroke-width="1.3" stroke-linecap="round"/><path d="M584,833L598,836Q601,848 597,860Q590,878 593,900Q596,915 594,928L586,929Q572,918 568,898Q566,875 575,858Q582,846 584,833Z" fill="#c3c1bc" stroke="#3a3a3a" stroke-width="1"/><path d="M604,823L620,825Q614,850 611,866Q617,876 615,888Q610,902 600,902Q590,898 591,884Q594,870 603,860Q603,840 604,823Z" fill="#aaa69d" stroke="#3a3a3a" stroke-width="1"/><polygon points="603.7,884.5 608.5,887.3 608.5,892.9 603.7,895.7 598.9,892.9 598.9,887.3" fill="#d2d2d2" stroke="#333" stroke-width="0.8"/><ellipse cx="577" cy="905" rx="3" ry="6" transform="rotate(-20 577 905)" fill="#888" stroke="#333" stroke-width="0.7"/><path d="M562.9,742.8A10.2,10.2 0 0 1 583.1,739.2L597.9,832.5L581.1,835.5Z" fill="#c4532c" stroke="#4a1c0c" stroke-width="0.9"/><line x1="574.1" y1="747.1" x2="589.2" y2="832.0" stroke="#a63f1c" stroke-width="2.46" /><path d="M613.9,718.4A10.0,10.0 0 0 1 633.7,720.6L621.0,824.9L604.0,823.1Z" fill="#c4532c" stroke="#4a1c0c" stroke-width="0.9"/><line x1="623.2" y1="725.5" x2="612.7" y2="822.0" stroke="#a63f1c" stroke-width="2.4" /><polygon points="674.1,691.0 651.9,702.1 650.7,699.7 645.1,708.6 655.6,709.5 654.4,707.0 676.5,696.0" fill="#e01b1e" stroke="#9a1010" stroke-width="0.6" stroke-linejoin="round"/><polygon points="522.9,769.2 545.2,758.1 546.4,760.5 552.0,751.6 541.5,750.7 542.7,753.2 520.5,764.2" fill="#e01b1e" stroke="#9a1010" stroke-width="0.6" stroke-linejoin="round"/><path d="M1051.4,616.9L834.5,804.9M1079.5,625.1L862.7,813.0M1107.7,633.3L890.9,821.2M1135.9,641.5L919.1,829.4M1164.1,649.6L947.3,837.5M1192.3,657.8L975.5,845.7M1220.5,666.0L1003.7,853.9M1248.7,674.1L1031.9,862.0M1276.9,682.3L1060.1,870.2M1305.1,690.5L1088.3,878.4M1333.3,698.6L1116.4,886.6M1049.6,617.3L1333.5,699.6M1033.1,631.7L1316.9,713.9M1016.5,646.0L1300.3,728.3M1000.0,660.4L1283.8,742.6M983.4,674.7L1267.2,757.0M966.8,689.1L1250.7,771.3M950.3,703.4L1234.1,785.7M933.7,717.8L1217.5,800.1M917.1,732.2L1201.0,814.4M900.6,746.5L1184.4,828.8M884.0,760.9L1167.8,843.1M867.5,775.2L1151.3,857.5M850.9,789.6L1134.7,871.8M834.3,803.9L1118.2,886.2" stroke="#141414" stroke-width="2.2" fill="none" stroke-linecap="round"/><path d="M825.5,648.2L774.5,692.5M853.8,656.5L802.9,700.7M882.2,664.7L831.3,708.9M910.6,672.9L859.7,717.1M938.9,681.1L888.0,725.3M967.3,689.3L916.4,733.5M995.7,697.5L944.8,741.7M1024.0,705.7L973.1,749.9M1052.4,713.9L1001.5,758.1M1080.8,722.1L1029.9,766.3M1109.2,730.3L1058.2,774.6M1137.5,738.6L1086.6,782.8M1165.9,746.8L1115.0,791.0M1194.3,755.0L1143.4,799.2M1222.6,763.2L1171.7,807.4M1251.0,771.4L1200.1,815.6M1279.4,779.6L1228.5,823.8M1307.7,787.8L1256.8,832.0M1336.1,796.0L1285.2,840.2M1364.5,804.2L1313.6,848.4M1392.9,812.4L1341.9,856.7M823.7,648.6L1393.1,813.4M807.3,662.9L1376.6,827.7M790.8,677.2L1360.1,842.0M774.3,691.5L1343.7,856.3" stroke="#141414" stroke-width="2.2" fill="none" stroke-linecap="round"/><line x1="966.5" y1="690.0" x2="1250.2" y2="772.0" stroke="#141414" stroke-width="3.4" stroke-linecap="round"/><line x1="917.1" y1="732.8" x2="1200.8" y2="815.0" stroke="#141414" stroke-width="3.4" stroke-linecap="round"/><line x1="966.5" y1="690.0" x2="917.1" y2="732.8" stroke="#141414" stroke-width="3.4" stroke-linecap="round"/><line x1="1250.2" y1="772.0" x2="1200.8" y2="815.0" stroke="#141414" stroke-width="3.4" stroke-linecap="round"/><ellipse cx="985.8" cy="695.5" rx="3.0" ry="4.2" fill="#111"/><polygon points="984.2,674.0 984.2,682.0 982.6,682.0 985.8,688.0 989.1,682.0 987.4,682.0 987.4,674.0" fill="#8c1f1f" stroke="#4a0c0c" stroke-width="0.6" stroke-linejoin="round"/><ellipse cx="935.6" cy="738.2" rx="3.0" ry="4.2" fill="#111"/><polygon points="934.0,716.7 934.0,724.7 932.3,724.7 935.6,730.7 938.8,724.7 937.2,724.7 937.2,716.7" fill="#8c1f1f" stroke="#4a0c0c" stroke-width="0.6" stroke-linejoin="round"/><ellipse cx="1014.2" cy="703.7" rx="3.0" ry="4.2" fill="#111"/><polygon points="1012.6,682.2 1012.6,690.2 1011.0,690.2 1014.2,696.2 1017.5,690.2 1015.8,690.2 1015.8,682.2" fill="#8c1f1f" stroke="#4a0c0c" stroke-width="0.6" stroke-linejoin="round"/><ellipse cx="964.0" cy="746.4" rx="3.0" ry="4.2" fill="#111"/><polygon points="962.4,724.9 962.4,732.9 960.7,732.9 964.0,738.9 967.2,732.9 965.6,732.9 965.6,724.9" fill="#8c1f1f" stroke="#4a0c0c" stroke-width="0.6" stroke-linejoin="round"/><ellipse cx="1042.6" cy="712.0" rx="3.0" ry="4.2" fill="#111"/><polygon points="1041.0,690.5 1041.0,698.5 1039.3,698.5 1042.6,704.5 1045.8,698.5 1044.2,698.5 1044.2,690.5" fill="#8c1f1f" stroke="#4a0c0c" stroke-width="0.6" stroke-linejoin="round"/><ellipse cx="992.3" cy="754.6" rx="3.0" ry="4.2" fill="#111"/><polygon points="990.7,733.1 990.7,741.1 989.1,741.1 992.3,747.1 995.6,741.1 993.9,741.1 993.9,733.1" fill="#8c1f1f" stroke="#4a0c0c" stroke-width="0.6" stroke-linejoin="round"/><ellipse cx="1071.0" cy="720.2" rx="3.0" ry="4.2" fill="#111"/><polygon points="1069.4,698.7 1069.4,706.7 1067.7,706.7 1071.0,712.7 1074.2,706.7 1072.6,706.7 1072.6,698.7" fill="#8c1f1f" stroke="#4a0c0c" stroke-width="0.6" stroke-linejoin="round"/><ellipse cx="1020.7" cy="762.8" rx="3.0" ry="4.2" fill="#111"/><polygon points="1019.1,741.3 1019.1,749.3 1017.5,749.3 1020.7,755.3 1024.0,749.3 1022.3,749.3 1022.3,741.3" fill="#8c1f1f" stroke="#4a0c0c" stroke-width="0.6" stroke-linejoin="round"/><ellipse cx="1099.3" cy="728.4" rx="3.0" ry="4.2" fill="#111"/><polygon points="1097.7,706.9 1097.7,714.9 1096.1,714.9 1099.3,720.9 1102.6,714.9 1100.9,714.9 1100.9,706.9" fill="#8c1f1f" stroke="#4a0c0c" stroke-width="0.6" stroke-linejoin="round"/><ellipse cx="1049.1" cy="771.0" rx="3.0" ry="4.2" fill="#111"/><polygon points="1047.5,749.5 1047.5,757.5 1045.8,757.5 1049.1,763.5 1052.3,757.5 1050.7,757.5 1050.7,749.5" fill="#8c1f1f" stroke="#4a0c0c" stroke-width="0.6" stroke-linejoin="round"/><ellipse cx="1127.7" cy="736.6" rx="3.0" ry="4.2" fill="#111"/><polygon points="1126.1,715.1 1126.1,723.1 1124.4,723.1 1127.7,729.1 1130.9,723.1 1129.3,723.1 1129.3,715.1" fill="#8c1f1f" stroke="#4a0c0c" stroke-width="0.6" stroke-linejoin="round"/><ellipse cx="1077.4" cy="779.2" rx="3.0" ry="4.2" fill="#111"/><polygon points="1075.8,757.7 1075.8,765.7 1074.2,765.7 1077.4,771.7 1080.7,765.7 1079.0,765.7 1079.0,757.7" fill="#8c1f1f" stroke="#4a0c0c" stroke-width="0.6" stroke-linejoin="round"/><ellipse cx="1156.1" cy="744.8" rx="3.0" ry="4.2" fill="#111"/><polygon points="1154.5,723.3 1154.5,731.3 1152.8,731.3 1156.1,737.3 1159.3,731.3 1157.7,731.3 1157.7,723.3" fill="#8c1f1f" stroke="#4a0c0c" stroke-width="0.6" stroke-linejoin="round"/><ellipse cx="1105.8" cy="787.4" rx="3.0" ry="4.2" fill="#111"/><polygon points="1104.2,765.9 1104.2,773.9 1102.6,773.9 1105.8,779.9 1109.1,773.9 1107.4,773.9 1107.4,765.9" fill="#8c1f1f" stroke="#4a0c0c" stroke-width="0.6" stroke-linejoin="round"/><ellipse cx="1184.4" cy="753.0" rx="3.0" ry="4.2" fill="#111"/><polygon points="1182.8,731.5 1182.8,739.5 1181.2,739.5 1184.4,745.5 1187.7,739.5 1186.0,739.5 1186.0,731.5" fill="#8c1f1f" stroke="#4a0c0c" stroke-width="0.6" stroke-linejoin="round"/><ellipse cx="1134.2" cy="795.7" rx="3.0" ry="4.2" fill="#111"/><polygon points="1132.6,774.2 1132.6,782.2 1130.9,782.2 1134.2,788.2 1137.4,782.2 1135.8,782.2 1135.8,774.2" fill="#8c1f1f" stroke="#4a0c0c" stroke-width="0.6" stroke-linejoin="round"/><ellipse cx="1212.8" cy="761.2" rx="3.0" ry="4.2" fill="#111"/><polygon points="1211.2,739.7 1211.2,747.7 1209.6,747.7 1212.8,753.7 1216.1,747.7 1214.4,747.7 1214.4,739.7" fill="#8c1f1f" stroke="#4a0c0c" stroke-width="0.6" stroke-linejoin="round"/><ellipse cx="1162.6" cy="803.9" rx="3.0" ry="4.2" fill="#111"/><polygon points="1161.0,782.4 1161.0,790.4 1159.3,790.4 1162.6,796.4 1165.8,790.4 1164.2,790.4 1164.2,782.4" fill="#8c1f1f" stroke="#4a0c0c" stroke-width="0.6" stroke-linejoin="round"/><ellipse cx="1241.2" cy="769.4" rx="3.0" ry="4.2" fill="#111"/><polygon points="1239.6,747.9 1239.6,755.9 1237.9,755.9 1241.2,761.9 1244.4,755.9 1242.8,755.9 1242.8,747.9" fill="#8c1f1f" stroke="#4a0c0c" stroke-width="0.6" stroke-linejoin="round"/><ellipse cx="1190.9" cy="812.1" rx="3.0" ry="4.2" fill="#111"/><polygon points="1189.3,790.6 1189.3,798.6 1187.7,798.6 1190.9,804.6 1194.2,798.6 1192.5,798.6 1192.5,790.6" fill="#8c1f1f" stroke="#4a0c0c" stroke-width="0.6" stroke-linejoin="round"/><ellipse cx="960.0" cy="695.7" rx="3.6" ry="3.0" transform="rotate(0 960.0 695.7)" fill="#fff" stroke="#141414" stroke-width="1.6"/><polygon points="957.9,675.2 957.9,683.2 956.2,683.2 959.5,689.2 962.7,683.2 961.1,683.2 961.1,675.2" fill="#8c1f1f" stroke="#4a0c0c" stroke-width="0.6" stroke-linejoin="round"/><ellipse cx="1243.7" cy="777.8" rx="3.6" ry="3.0" transform="rotate(0 1243.7 777.8)" fill="#fff" stroke="#141414" stroke-width="1.6"/><polygon points="1243.1,755.8 1243.1,763.8 1241.4,763.8 1244.7,769.8 1247.9,763.8 1246.3,763.8 1246.3,755.8" fill="#8c1f1f" stroke="#4a0c0c" stroke-width="0.6" stroke-linejoin="round"/><ellipse cx="944.0" cy="709.5" rx="3.6" ry="3.0" transform="rotate(0 944.0 709.5)" fill="#fff" stroke="#141414" stroke-width="1.6"/><polygon points="941.9,689.0 941.9,697.0 940.2,697.0 943.5,703.0 946.7,697.0 945.1,697.0 945.1,689.0" fill="#8c1f1f" stroke="#4a0c0c" stroke-width="0.6" stroke-linejoin="round"/><ellipse cx="1227.7" cy="791.6" rx="3.6" ry="3.0" transform="rotate(0 1227.7 791.6)" fill="#fff" stroke="#141414" stroke-width="1.6"/><polygon points="1227.1,769.6 1227.1,777.6 1225.4,777.6 1228.7,783.6 1231.9,777.6 1230.3,777.6 1230.3,769.6" fill="#8c1f1f" stroke="#4a0c0c" stroke-width="0.6" stroke-linejoin="round"/><ellipse cx="927.7" cy="723.7" rx="3.6" ry="3.0" transform="rotate(0 927.7 723.7)" fill="#fff" stroke="#141414" stroke-width="1.6"/><polygon points="925.6,703.2 925.6,711.2 923.9,711.2 927.2,717.2 930.4,711.2 928.8,711.2 928.8,703.2" fill="#8c1f1f" stroke="#4a0c0c" stroke-width="0.6" stroke-linejoin="round"/><ellipse cx="1211.4" cy="805.8" rx="3.6" ry="3.0" transform="rotate(0 1211.4 805.8)" fill="#fff" stroke="#141414" stroke-width="1.6"/><polygon points="1210.8,783.8 1210.8,791.8 1209.1,791.8 1212.4,797.8 1215.6,791.8 1214.0,791.8 1214.0,783.8" fill="#8c1f1f" stroke="#4a0c0c" stroke-width="0.6" stroke-linejoin="round"/><path d="M243.5,1094.0L532.5,1237.3M243.5,1129.3L532.5,1272.6M243.5,1164.6L532.5,1307.9M243.5,1199.9L532.5,1343.2M243.5,1235.2L532.5,1378.5M243.5,1270.5L532.5,1413.8" stroke="#202427" stroke-width="2.7" fill="none" stroke-linecap="round"/><path d="M243.5,1094.0L532.5,1237.3M243.5,1129.3L532.5,1272.6M243.5,1164.6L532.5,1307.9M243.5,1199.9L532.5,1343.2M243.5,1235.2L532.5,1378.5M243.5,1270.5L532.5,1413.8" stroke="#6f787e" stroke-width="0.5" fill="none"/><path d="M244.6,1093.3L244.6,1272.2M273.3,1107.5L273.3,1286.4M302.0,1121.8L302.0,1300.7M330.6,1136.0L330.6,1314.9M359.3,1150.2L359.3,1329.1M388.0,1164.5L388.0,1343.4M416.7,1178.7L416.7,1357.6M445.4,1192.9L445.4,1371.8M474.0,1207.1L474.0,1386.0M502.7,1221.4L502.7,1400.3M531.4,1235.6L531.4,1414.5" stroke="#202427" stroke-width="2.7" fill="none" stroke-linecap="round"/><path d="M244.6,1093.3L244.6,1272.2M273.3,1107.5L273.3,1286.4M302.0,1121.8L302.0,1300.7M330.6,1136.0L330.6,1314.9M359.3,1150.2L359.3,1329.1M388.0,1164.5L388.0,1343.4M416.7,1178.7L416.7,1357.6M445.4,1192.9L445.4,1371.8M474.0,1207.1L474.0,1386.0M502.7,1221.4L502.7,1400.3M531.4,1235.6L531.4,1414.5" stroke="#7d868c" stroke-width="0.5" fill="none"/><path d="M150.0,1315.0L239.4,1271.5M179.0,1329.5L268.3,1286.0M207.9,1344.0L297.3,1300.5M236.9,1358.5L326.2,1315.0M265.8,1373.0L355.2,1329.5M294.8,1387.5L384.1,1344.0M323.7,1402.0L413.1,1358.5M352.7,1416.5L442.0,1373.0M381.6,1431.0L471.0,1387.5M410.6,1445.5L499.9,1402.0M439.5,1460.0L528.9,1416.5" stroke="#202427" stroke-width="2.7" fill="none" stroke-linecap="round"/><path d="M150.0,1315.0L239.4,1271.5M179.0,1329.5L268.3,1286.0M207.9,1344.0L297.3,1300.5M236.9,1358.5L326.2,1315.0M265.8,1373.0L355.2,1329.5M294.8,1387.5L384.1,1344.0M323.7,1402.0L413.1,1358.5M352.7,1416.5L442.0,1373.0M381.6,1431.0L471.0,1387.5M410.6,1445.5L499.9,1402.0M439.5,1460.0L528.9,1416.5" stroke="#c2c8cc" stroke-width="0.8" fill="none"/><path d="M150.0,1314.0L441.7,1460.0M179.1,1299.8L470.7,1445.9M208.2,1285.6L499.8,1431.7M237.2,1271.5L528.9,1417.5" stroke="#202427" stroke-width="2.7" fill="none" stroke-linecap="round"/><path d="M150.0,1314.0L441.7,1460.0M179.1,1299.8L470.7,1445.9M208.2,1285.6L499.8,1431.7M237.2,1271.5L528.9,1417.5" stroke="#6f787e" stroke-width="0.5" fill="none"/><path d="M150.0,1135.5L239.4,1092.0M150.0,1170.8L239.4,1127.3M150.0,1206.1L239.4,1162.6M150.0,1241.4L239.4,1197.9M150.0,1276.7L239.4,1233.2M150.0,1312.0L239.4,1268.5" stroke="#202427" stroke-width="2.7" fill="none" stroke-linecap="round"/><path d="M150.0,1135.5L239.4,1092.0M150.0,1170.8L239.4,1127.3M150.0,1206.1L239.4,1162.6M150.0,1241.4L239.4,1197.9M150.0,1276.7L239.4,1233.2M150.0,1312.0L239.4,1268.5" stroke="#c2c8cc" stroke-width="0.8" fill="none"/><path d="M151.1,1133.8L151.1,1312.7M180.2,1119.6L180.2,1298.5M209.2,1105.5L209.2,1284.4M238.3,1091.3L238.3,1270.2" stroke="#202427" stroke-width="2.7" fill="none" stroke-linecap="round"/><path d="M151.1,1133.8L151.1,1312.7M180.2,1119.6L180.2,1298.5M209.2,1105.5L209.2,1284.4M238.3,1091.3L238.3,1270.2" stroke="#7d868c" stroke-width="0.5" fill="none"/><path d="M443.1,1278.5L532.5,1235.0M443.1,1313.8L532.5,1270.3M443.1,1349.1L532.5,1305.6M443.1,1384.4L532.5,1340.9M443.1,1419.7L532.5,1376.2M443.1,1455.0L532.5,1411.5" stroke="#202427" stroke-width="2.7" fill="none" stroke-linecap="round"/><path d="M443.1,1278.5L532.5,1235.0M443.1,1313.8L532.5,1270.3M443.1,1349.1L532.5,1305.6M443.1,1384.4L532.5,1340.9M443.1,1419.7L532.5,1376.2M443.1,1455.0L532.5,1411.5" stroke="#c2c8cc" stroke-width="0.8" fill="none"/><path d="M444.2,1276.8L444.2,1455.7M473.3,1262.6L473.3,1441.5M502.3,1248.5L502.3,1427.4M531.4,1234.3L531.4,1413.2" stroke="#202427" stroke-width="2.7" fill="none" stroke-linecap="round"/><path d="M444.2,1276.8L444.2,1455.7M473.3,1262.6L473.3,1441.5M502.3,1248.5L502.3,1427.4M531.4,1234.3L531.4,1413.2" stroke="#7d868c" stroke-width="0.5" fill="none"/><path d="M150.0,1134.5L441.7,1280.5M150.0,1169.8L441.7,1315.8M150.0,1205.1L441.7,1351.1M150.0,1240.4L441.7,1386.4M150.0,1275.7L441.7,1421.7M150.0,1311.0L441.7,1457.0" stroke="#202427" stroke-width="2.7" fill="none" stroke-linecap="round"/><path d="M150.0,1134.5L441.7,1280.5M150.0,1169.8L441.7,1315.8M150.0,1205.1L441.7,1351.1M150.0,1240.4L441.7,1386.4M150.0,1275.7L441.7,1421.7M150.0,1311.0L441.7,1457.0" stroke="#6f787e" stroke-width="0.5" fill="none"/><path d="M151.1,1133.8L151.1,1312.7M180.1,1148.3L180.1,1327.2M209.0,1162.8L209.0,1341.7M237.9,1177.3L237.9,1356.2M266.9,1191.8L266.9,1370.7M295.9,1206.3L295.9,1385.2M324.8,1220.8L324.8,1399.7M353.8,1235.3L353.8,1414.2M382.7,1249.8L382.7,1428.7M411.6,1264.3L411.6,1443.2M440.6,1278.8L440.6,1457.7" stroke="#202427" stroke-width="2.7" fill="none" stroke-linecap="round"/><path d="M151.1,1133.8L151.1,1312.7M180.1,1148.3L180.1,1327.2M209.0,1162.8L209.0,1341.7M237.9,1177.3L237.9,1356.2M266.9,1191.8L266.9,1370.7M295.9,1206.3L295.9,1385.2M324.8,1220.8L324.8,1399.7M353.8,1235.3L353.8,1414.2M382.7,1249.8L382.7,1428.7M411.6,1264.3L411.6,1443.2M440.6,1278.8L440.6,1457.7" stroke="#7d868c" stroke-width="0.5" fill="none"/><ellipse cx="151.1" cy="1164.3" rx="4.6" ry="2.5" transform="rotate(-8 151.1 1164.3)" fill="#8f969b" stroke="#15181a" stroke-width="2.1"/><ellipse cx="151.1" cy="1199.6" rx="4.6" ry="2.5" transform="rotate(-8 151.1 1199.6)" fill="#8f969b" stroke="#15181a" stroke-width="2.1"/><ellipse cx="151.1" cy="1234.9" rx="4.6" ry="2.5" transform="rotate(-8 151.1 1234.9)" fill="#8f969b" stroke="#15181a" stroke-width="2.1"/><ellipse cx="151.1" cy="1270.2" rx="4.6" ry="2.5" transform="rotate(-8 151.1 1270.2)" fill="#8f969b" stroke="#15181a" stroke-width="2.1"/><ellipse cx="151.1" cy="1305.5" rx="4.6" ry="2.5" transform="rotate(-8 151.1 1305.5)" fill="#8f969b" stroke="#15181a" stroke-width="2.1"/><ellipse cx="238.3" cy="1121.8" rx="4.6" ry="2.5" transform="rotate(-8 238.3 1121.8)" fill="#8f969b" stroke="#15181a" stroke-width="2.1"/><ellipse cx="238.3" cy="1157.1" rx="4.6" ry="2.5" transform="rotate(-8 238.3 1157.1)" fill="#8f969b" stroke="#15181a" stroke-width="2.1"/><ellipse cx="238.3" cy="1192.4" rx="4.6" ry="2.5" transform="rotate(-8 238.3 1192.4)" fill="#8f969b" stroke="#15181a" stroke-width="2.1"/><ellipse cx="238.3" cy="1227.7" rx="4.6" ry="2.5" transform="rotate(-8 238.3 1227.7)" fill="#8f969b" stroke="#15181a" stroke-width="2.1"/><ellipse cx="238.3" cy="1263.0" rx="4.6" ry="2.5" transform="rotate(-8 238.3 1263.0)" fill="#8f969b" stroke="#15181a" stroke-width="2.1"/><ellipse cx="440.6" cy="1309.3" rx="4.6" ry="2.5" transform="rotate(-8 440.6 1309.3)" fill="#8f969b" stroke="#15181a" stroke-width="2.1"/><ellipse cx="440.6" cy="1344.6" rx="4.6" ry="2.5" transform="rotate(-8 440.6 1344.6)" fill="#8f969b" stroke="#15181a" stroke-width="2.1"/><ellipse cx="440.6" cy="1379.9" rx="4.6" ry="2.5" transform="rotate(-8 440.6 1379.9)" fill="#8f969b" stroke="#15181a" stroke-width="2.1"/><ellipse cx="440.6" cy="1415.2" rx="4.6" ry="2.5" transform="rotate(-8 440.6 1415.2)" fill="#8f969b" stroke="#15181a" stroke-width="2.1"/><ellipse cx="440.6" cy="1450.5" rx="4.6" ry="2.5" transform="rotate(-8 440.6 1450.5)" fill="#8f969b" stroke="#15181a" stroke-width="2.1"/><ellipse cx="527.8" cy="1266.8" rx="4.6" ry="2.5" transform="rotate(-8 527.8 1266.8)" fill="#8f969b" stroke="#15181a" stroke-width="2.1"/><ellipse cx="527.8" cy="1302.1" rx="4.6" ry="2.5" transform="rotate(-8 527.8 1302.1)" fill="#8f969b" stroke="#15181a" stroke-width="2.1"/><ellipse cx="527.8" cy="1337.4" rx="4.6" ry="2.5" transform="rotate(-8 527.8 1337.4)" fill="#8f969b" stroke="#15181a" stroke-width="2.1"/><ellipse cx="527.8" cy="1372.7" rx="4.6" ry="2.5" transform="rotate(-8 527.8 1372.7)" fill="#8f969b" stroke="#15181a" stroke-width="2.1"/><ellipse cx="527.8" cy="1408.0" rx="4.6" ry="2.5" transform="rotate(-8 527.8 1408.0)" fill="#8f969b" stroke="#15181a" stroke-width="2.1"/><ellipse cx="172.2" cy="1322.1" rx="2.8" ry="4.0" transform="rotate(-26 172.2 1322.1)" fill="#8f969b" stroke="#15181a" stroke-width="2.2"/><ellipse cx="259.4" cy="1279.6" rx="2.8" ry="4.0" transform="rotate(-26 259.4 1279.6)" fill="#8f969b" stroke="#15181a" stroke-width="2.2"/><ellipse cx="201.2" cy="1336.6" rx="2.8" ry="4.0" transform="rotate(-26 201.2 1336.6)" fill="#8f969b" stroke="#15181a" stroke-width="2.2"/><ellipse cx="288.4" cy="1294.1" rx="2.8" ry="4.0" transform="rotate(-26 288.4 1294.1)" fill="#8f969b" stroke="#15181a" stroke-width="2.2"/><ellipse cx="230.1" cy="1351.1" rx="2.8" ry="4.0" transform="rotate(-26 230.1 1351.1)" fill="#8f969b" stroke="#15181a" stroke-width="2.2"/><ellipse cx="317.3" cy="1308.6" rx="2.8" ry="4.0" transform="rotate(-26 317.3 1308.6)" fill="#8f969b" stroke="#15181a" stroke-width="2.2"/><ellipse cx="259.1" cy="1365.6" rx="2.8" ry="4.0" transform="rotate(-26 259.1 1365.6)" fill="#8f969b" stroke="#15181a" stroke-width="2.2"/><ellipse cx="346.3" cy="1323.1" rx="2.8" ry="4.0" transform="rotate(-26 346.3 1323.1)" fill="#8f969b" stroke="#15181a" stroke-width="2.2"/><ellipse cx="288.0" cy="1380.1" rx="2.8" ry="4.0" transform="rotate(-26 288.0 1380.1)" fill="#8f969b" stroke="#15181a" stroke-width="2.2"/><ellipse cx="375.2" cy="1337.6" rx="2.8" ry="4.0" transform="rotate(-26 375.2 1337.6)" fill="#8f969b" stroke="#15181a" stroke-width="2.2"/><ellipse cx="317.0" cy="1394.6" rx="2.8" ry="4.0" transform="rotate(-26 317.0 1394.6)" fill="#8f969b" stroke="#15181a" stroke-width="2.2"/><ellipse cx="404.2" cy="1352.1" rx="2.8" ry="4.0" transform="rotate(-26 404.2 1352.1)" fill="#8f969b" stroke="#15181a" stroke-width="2.2"/><ellipse cx="345.9" cy="1409.1" rx="2.8" ry="4.0" transform="rotate(-26 345.9 1409.1)" fill="#8f969b" stroke="#15181a" stroke-width="2.2"/><ellipse cx="433.1" cy="1366.6" rx="2.8" ry="4.0" transform="rotate(-26 433.1 1366.6)" fill="#8f969b" stroke="#15181a" stroke-width="2.2"/><ellipse cx="374.9" cy="1423.6" rx="2.8" ry="4.0" transform="rotate(-26 374.9 1423.6)" fill="#8f969b" stroke="#15181a" stroke-width="2.2"/><ellipse cx="462.1" cy="1381.1" rx="2.8" ry="4.0" transform="rotate(-26 462.1 1381.1)" fill="#8f969b" stroke="#15181a" stroke-width="2.2"/><ellipse cx="403.8" cy="1438.1" rx="2.8" ry="4.0" transform="rotate(-26 403.8 1438.1)" fill="#8f969b" stroke="#15181a" stroke-width="2.2"/><ellipse cx="491.0" cy="1395.6" rx="2.8" ry="4.0" transform="rotate(-26 491.0 1395.6)" fill="#8f969b" stroke="#15181a" stroke-width="2.2"/><ellipse cx="432.8" cy="1452.6" rx="2.8" ry="4.0" transform="rotate(-26 432.8 1452.6)" fill="#8f969b" stroke="#15181a" stroke-width="2.2"/><ellipse cx="520.0" cy="1410.1" rx="2.8" ry="4.0" transform="rotate(-26 520.0 1410.1)" fill="#8f969b" stroke="#15181a" stroke-width="2.2"/><ellipse cx="165.6" cy="1304.4" rx="2.8" ry="4.0" transform="rotate(30 165.6 1304.4)" fill="#8f969b" stroke="#15181a" stroke-width="2.2"/><ellipse cx="455.1" cy="1449.4" rx="2.8" ry="4.0" transform="rotate(30 455.1 1449.4)" fill="#8f969b" stroke="#15181a" stroke-width="2.2"/><ellipse cx="194.7" cy="1290.2" rx="2.8" ry="4.0" transform="rotate(30 194.7 1290.2)" fill="#8f969b" stroke="#15181a" stroke-width="2.2"/><ellipse cx="484.2" cy="1435.2" rx="2.8" ry="4.0" transform="rotate(30 484.2 1435.2)" fill="#8f969b" stroke="#15181a" stroke-width="2.2"/><ellipse cx="223.8" cy="1276.1" rx="2.8" ry="4.0" transform="rotate(30 223.8 1276.1)" fill="#8f969b" stroke="#15181a" stroke-width="2.2"/><ellipse cx="513.3" cy="1421.1" rx="2.8" ry="4.0" transform="rotate(30 513.3 1421.1)" fill="#8f969b" stroke="#15181a" stroke-width="2.2"/><polygon points="217.0,1113.0 225.7,1117.3 224.8,1119.1 232.3,1118.6 228.1,1112.3 227.3,1114.1 218.6,1109.8" fill="#a3262a" stroke="#5a1012" stroke-width="0.6" stroke-linejoin="round"/><polygon points="131.3,1156.5 139.5,1160.7 138.6,1162.5 146.1,1162.1 142.0,1155.8 141.1,1157.5 132.9,1153.3" fill="#a3262a" stroke="#5a1012" stroke-width="0.6" stroke-linejoin="round"/><polygon points="462.3,1316.2 453.8,1312.3 454.6,1310.5 447.1,1311.3 451.5,1317.4 452.3,1315.6 460.9,1319.4" fill="#a3262a" stroke="#5a1012" stroke-width="0.6" stroke-linejoin="round"/><polygon points="548.6,1275.5 540.0,1271.5 540.8,1269.7 533.3,1270.4 537.6,1276.5 538.4,1274.8 547.0,1278.7" fill="#a3262a" stroke="#5a1012" stroke-width="0.6" stroke-linejoin="round"/><polygon points="217.0,1148.3 225.7,1152.6 224.8,1154.4 232.3,1153.9 228.1,1147.6 227.3,1149.4 218.6,1145.1" fill="#a3262a" stroke="#5a1012" stroke-width="0.6" stroke-linejoin="round"/><polygon points="131.3,1191.8 139.5,1196.0 138.6,1197.8 146.1,1197.4 142.0,1191.1 141.1,1192.8 132.9,1188.6" fill="#a3262a" stroke="#5a1012" stroke-width="0.6" stroke-linejoin="round"/><polygon points="462.3,1351.5 453.8,1347.6 454.6,1345.8 447.1,1346.6 451.5,1352.7 452.3,1350.9 460.9,1354.7" fill="#a3262a" stroke="#5a1012" stroke-width="0.6" stroke-linejoin="round"/><polygon points="548.6,1310.8 540.0,1306.8 540.8,1305.0 533.3,1305.7 537.6,1311.8 538.4,1310.1 547.0,1314.0" fill="#a3262a" stroke="#5a1012" stroke-width="0.6" stroke-linejoin="round"/><polygon points="217.0,1183.6 225.7,1187.9 224.8,1189.7 232.3,1189.2 228.1,1182.9 227.3,1184.7 218.6,1180.4" fill="#a3262a" stroke="#5a1012" stroke-width="0.6" stroke-linejoin="round"/><polygon points="131.3,1227.1 139.5,1231.3 138.6,1233.1 146.1,1232.7 142.0,1226.4 141.1,1228.1 132.9,1223.9" fill="#a3262a" stroke="#5a1012" stroke-width="0.6" stroke-linejoin="round"/><polygon points="462.3,1386.8 453.8,1382.9 454.6,1381.1 447.1,1381.9 451.5,1388.0 452.3,1386.2 460.9,1390.0" fill="#a3262a" stroke="#5a1012" stroke-width="0.6" stroke-linejoin="round"/><polygon points="548.6,1346.1 540.0,1342.1 540.8,1340.3 533.3,1341.0 537.6,1347.1 538.4,1345.4 547.0,1349.3" fill="#a3262a" stroke="#5a1012" stroke-width="0.6" stroke-linejoin="round"/><polygon points="217.0,1218.9 225.7,1223.2 224.8,1225.0 232.3,1224.5 228.1,1218.2 227.3,1220.0 218.6,1215.7" fill="#a3262a" stroke="#5a1012" stroke-width="0.6" stroke-linejoin="round"/><polygon points="131.3,1262.4 139.5,1266.6 138.6,1268.4 146.1,1268.0 142.0,1261.7 141.1,1263.4 132.9,1259.2" fill="#a3262a" stroke="#5a1012" stroke-width="0.6" stroke-linejoin="round"/><polygon points="462.3,1422.1 453.8,1418.2 454.6,1416.4 447.1,1417.2 451.5,1423.3 452.3,1421.5 460.9,1425.3" fill="#a3262a" stroke="#5a1012" stroke-width="0.6" stroke-linejoin="round"/><polygon points="548.6,1381.4 540.0,1377.4 540.8,1375.6 533.3,1376.3 537.6,1382.4 538.4,1380.7 547.0,1384.6" fill="#a3262a" stroke="#5a1012" stroke-width="0.6" stroke-linejoin="round"/><polygon points="217.0,1254.2 225.7,1258.5 224.8,1260.3 232.3,1259.8 228.1,1253.5 227.3,1255.3 218.6,1251.0" fill="#a3262a" stroke="#5a1012" stroke-width="0.6" stroke-linejoin="round"/><polygon points="131.3,1297.7 139.5,1301.9 138.6,1303.7 146.1,1303.3 142.0,1297.0 141.1,1298.7 132.9,1294.5" fill="#a3262a" stroke="#5a1012" stroke-width="0.6" stroke-linejoin="round"/><polygon points="462.3,1457.4 453.8,1453.5 454.6,1451.7 447.1,1452.5 451.5,1458.6 452.3,1456.8 460.9,1460.6" fill="#a3262a" stroke="#5a1012" stroke-width="0.6" stroke-linejoin="round"/><polygon points="548.6,1416.7 540.0,1412.7 540.8,1410.9 533.3,1411.6 537.6,1417.7 538.4,1416.0 547.0,1419.9" fill="#a3262a" stroke="#5a1012" stroke-width="0.6" stroke-linejoin="round"/><path d="M994.2,1090.2L1282.6,1234.9M994.2,1124.7L1282.6,1269.5M994.2,1159.3L1282.6,1304.1M994.2,1193.8L1282.6,1338.6M994.2,1228.4L1282.6,1373.2M994.2,1263.0L1282.6,1407.7" stroke="#2f3539" stroke-width="2.6" fill="none" stroke-linecap="round"/><path d="M994.2,1090.2L1282.6,1234.9M994.2,1124.7L1282.6,1269.5M994.2,1159.3L1282.6,1304.1M994.2,1193.8L1282.6,1338.6M994.2,1228.4L1282.6,1373.2M994.2,1263.0L1282.6,1407.7" stroke="#6f787e" stroke-width="0.5" fill="none"/><path d="M995.3,1089.5L995.3,1264.7M1023.9,1103.9L1023.9,1279.1M1052.5,1118.2L1052.5,1293.4M1081.2,1132.6L1081.2,1307.8M1109.8,1147.0L1109.8,1322.2M1138.4,1161.3L1138.4,1336.5M1167.0,1175.7L1167.0,1350.9M1195.6,1190.1L1195.6,1365.3M1224.3,1204.5L1224.3,1379.7M1252.9,1218.8L1252.9,1394.0M1281.5,1233.2L1281.5,1408.4" stroke="#2f3539" stroke-width="2.6" fill="none" stroke-linecap="round"/><path d="M995.3,1089.5L995.3,1264.7M1023.9,1103.9L1023.9,1279.1M1052.5,1118.2L1052.5,1293.4M1081.2,1132.6L1081.2,1307.8M1109.8,1147.0L1109.8,1322.2M1138.4,1161.3L1138.4,1336.5M1167.0,1175.7L1167.0,1350.9M1195.6,1190.1L1195.6,1365.3M1224.3,1204.5L1224.3,1379.7M1252.9,1218.8L1252.9,1394.0M1281.5,1233.2L1281.5,1408.4" stroke="#7d868c" stroke-width="0.5" fill="none"/><path d="M901.2,1311.7L990.1,1264.9M930.1,1326.2L1019.0,1279.5M959.0,1340.7L1047.9,1294.0M987.9,1355.3L1076.8,1308.6M1016.8,1369.8L1105.7,1323.1M1045.7,1384.4L1134.6,1337.6M1074.6,1398.9L1163.5,1352.2M1103.5,1413.4L1192.4,1366.7M1132.4,1428.0L1221.3,1381.3M1161.3,1442.5L1250.2,1395.8M1190.2,1457.1L1279.1,1410.3" stroke="#2f3539" stroke-width="2.6" fill="none" stroke-linecap="round"/><path d="M901.2,1311.7L990.1,1264.9M930.1,1326.2L1019.0,1279.5M959.0,1340.7L1047.9,1294.0M987.9,1355.3L1076.8,1308.6M1016.8,1369.8L1105.7,1323.1M1045.7,1384.4L1134.6,1337.6M1074.6,1398.9L1163.5,1352.2M1103.5,1413.4L1192.4,1366.7M1132.4,1428.0L1221.3,1381.3M1161.3,1442.5L1250.2,1395.8M1190.2,1457.1L1279.1,1410.3" stroke="#c2c8cc" stroke-width="0.8" fill="none"/><path d="M901.2,1310.6L1192.4,1457.0M930.1,1295.4L1221.3,1441.8M959.0,1280.2L1250.2,1426.6M987.9,1265.0L1279.1,1411.4" stroke="#2f3539" stroke-width="2.6" fill="none" stroke-linecap="round"/><path d="M901.2,1310.6L1192.4,1457.0M930.1,1295.4L1221.3,1441.8M959.0,1280.2L1250.2,1426.6M987.9,1265.0L1279.1,1411.4" stroke="#6f787e" stroke-width="0.5" fill="none"/><path d="M901.2,1135.9L990.1,1089.1M901.2,1170.4L990.1,1123.7M901.2,1205.0L990.1,1158.3M901.2,1239.5L990.1,1192.8M901.2,1274.1L990.1,1227.4M901.2,1308.7L990.1,1261.9" stroke="#2f3539" stroke-width="2.6" fill="none" stroke-linecap="round"/><path d="M901.2,1135.9L990.1,1089.1M901.2,1170.4L990.1,1123.7M901.2,1205.0L990.1,1158.3M901.2,1239.5L990.1,1192.8M901.2,1274.1L990.1,1227.4M901.2,1308.7L990.1,1261.9" stroke="#c2c8cc" stroke-width="0.8" fill="none"/><path d="M902.3,1134.1L902.3,1309.3M931.2,1118.9L931.2,1294.1M960.1,1103.7L960.1,1278.9M989.0,1088.5L989.0,1263.7" stroke="#2f3539" stroke-width="2.6" fill="none" stroke-linecap="round"/><path d="M902.3,1134.1L902.3,1309.3M931.2,1118.9L931.2,1294.1M960.1,1103.7L960.1,1278.9M989.0,1088.5L989.0,1263.7" stroke="#7d868c" stroke-width="0.5" fill="none"/><path d="M1195.2,1280.3L1284.1,1233.5M1195.2,1314.8L1284.1,1268.1M1195.2,1349.4L1284.1,1302.7M1195.2,1383.9L1284.1,1337.2M1195.2,1418.5L1284.1,1371.8M1195.2,1453.1L1284.1,1406.3" stroke="#2f3539" stroke-width="2.6" fill="none" stroke-linecap="round"/><path d="M1195.2,1280.3L1284.1,1233.5M1195.2,1314.8L1284.1,1268.1M1195.2,1349.4L1284.1,1302.7M1195.2,1383.9L1284.1,1337.2M1195.2,1418.5L1284.1,1371.8M1195.2,1453.1L1284.1,1406.3" stroke="#c2c8cc" stroke-width="0.8" fill="none"/><path d="M1196.3,1278.5L1196.3,1453.7M1225.2,1263.3L1225.2,1438.5M1254.1,1248.1L1254.1,1423.3M1283.0,1232.9L1283.0,1408.1" stroke="#2f3539" stroke-width="2.6" fill="none" stroke-linecap="round"/><path d="M1196.3,1278.5L1196.3,1453.7M1225.2,1263.3L1225.2,1438.5M1254.1,1248.1L1254.1,1423.3M1283.0,1232.9L1283.0,1408.1" stroke="#7d868c" stroke-width="0.5" fill="none"/><path d="M901.2,1134.8L1192.4,1281.2M901.2,1169.3L1192.4,1315.8M901.2,1203.9L1192.4,1350.4M901.2,1238.4L1192.4,1384.9M901.2,1273.0L1192.4,1419.5M901.2,1307.6L1192.4,1454.0" stroke="#2f3539" stroke-width="2.6" fill="none" stroke-linecap="round"/><path d="M901.2,1134.8L1192.4,1281.2M901.2,1169.3L1192.4,1315.8M901.2,1203.9L1192.4,1350.4M901.2,1238.4L1192.4,1384.9M901.2,1273.0L1192.4,1419.5M901.2,1307.6L1192.4,1454.0" stroke="#6f787e" stroke-width="0.5" fill="none"/><path d="M902.3,1134.1L902.3,1309.3M931.2,1148.6L931.2,1323.8M960.1,1163.2L960.1,1338.4M989.0,1177.7L989.0,1352.9M1017.9,1192.3L1017.9,1367.5M1046.8,1206.8L1046.8,1382.0M1075.7,1221.3L1075.7,1396.5M1104.6,1235.9L1104.6,1411.1M1133.5,1250.4L1133.5,1425.6M1162.4,1265.0L1162.4,1440.2M1191.3,1279.5L1191.3,1454.7" stroke="#2f3539" stroke-width="2.6" fill="none" stroke-linecap="round"/><path d="M902.3,1134.1L902.3,1309.3M931.2,1148.6L931.2,1323.8M960.1,1163.2L960.1,1338.4M989.0,1177.7L989.0,1352.9M1017.9,1192.3L1017.9,1367.5M1046.8,1206.8L1046.8,1382.0M1075.7,1221.3L1075.7,1396.5M1104.6,1235.9L1104.6,1411.1M1133.5,1250.4L1133.5,1425.6M1162.4,1265.0L1162.4,1440.2M1191.3,1279.5L1191.3,1454.7" stroke="#7d868c" stroke-width="0.5" fill="none"/><ellipse cx="902.3" cy="1164.0" rx="4.6" ry="2.5" transform="rotate(-8 902.3 1164.0)" fill="#8f969b" stroke="#15181a" stroke-width="2.1"/><ellipse cx="902.3" cy="1198.5" rx="4.6" ry="2.5" transform="rotate(-8 902.3 1198.5)" fill="#8f969b" stroke="#15181a" stroke-width="2.1"/><ellipse cx="902.3" cy="1233.1" rx="4.6" ry="2.5" transform="rotate(-8 902.3 1233.1)" fill="#8f969b" stroke="#15181a" stroke-width="2.1"/><ellipse cx="902.3" cy="1267.7" rx="4.6" ry="2.5" transform="rotate(-8 902.3 1267.7)" fill="#8f969b" stroke="#15181a" stroke-width="2.1"/><ellipse cx="902.3" cy="1302.2" rx="4.6" ry="2.5" transform="rotate(-8 902.3 1302.2)" fill="#8f969b" stroke="#15181a" stroke-width="2.1"/><ellipse cx="989.0" cy="1118.4" rx="4.6" ry="2.5" transform="rotate(-8 989.0 1118.4)" fill="#8f969b" stroke="#15181a" stroke-width="2.1"/><ellipse cx="989.0" cy="1152.9" rx="4.6" ry="2.5" transform="rotate(-8 989.0 1152.9)" fill="#8f969b" stroke="#15181a" stroke-width="2.1"/><ellipse cx="989.0" cy="1187.5" rx="4.6" ry="2.5" transform="rotate(-8 989.0 1187.5)" fill="#8f969b" stroke="#15181a" stroke-width="2.1"/><ellipse cx="989.0" cy="1222.1" rx="4.6" ry="2.5" transform="rotate(-8 989.0 1222.1)" fill="#8f969b" stroke="#15181a" stroke-width="2.1"/><ellipse cx="989.0" cy="1256.6" rx="4.6" ry="2.5" transform="rotate(-8 989.0 1256.6)" fill="#8f969b" stroke="#15181a" stroke-width="2.1"/><ellipse cx="1191.3" cy="1309.4" rx="4.6" ry="2.5" transform="rotate(-8 1191.3 1309.4)" fill="#8f969b" stroke="#15181a" stroke-width="2.1"/><ellipse cx="1191.3" cy="1343.9" rx="4.6" ry="2.5" transform="rotate(-8 1191.3 1343.9)" fill="#8f969b" stroke="#15181a" stroke-width="2.1"/><ellipse cx="1191.3" cy="1378.5" rx="4.6" ry="2.5" transform="rotate(-8 1191.3 1378.5)" fill="#8f969b" stroke="#15181a" stroke-width="2.1"/><ellipse cx="1191.3" cy="1413.1" rx="4.6" ry="2.5" transform="rotate(-8 1191.3 1413.1)" fill="#8f969b" stroke="#15181a" stroke-width="2.1"/><ellipse cx="1191.3" cy="1447.6" rx="4.6" ry="2.5" transform="rotate(-8 1191.3 1447.6)" fill="#8f969b" stroke="#15181a" stroke-width="2.1"/><ellipse cx="1278.0" cy="1263.8" rx="4.6" ry="2.5" transform="rotate(-8 1278.0 1263.8)" fill="#8f969b" stroke="#15181a" stroke-width="2.1"/><ellipse cx="1278.0" cy="1298.3" rx="4.6" ry="2.5" transform="rotate(-8 1278.0 1298.3)" fill="#8f969b" stroke="#15181a" stroke-width="2.1"/><ellipse cx="1278.0" cy="1332.9" rx="4.6" ry="2.5" transform="rotate(-8 1278.0 1332.9)" fill="#8f969b" stroke="#15181a" stroke-width="2.1"/><ellipse cx="1278.0" cy="1367.5" rx="4.6" ry="2.5" transform="rotate(-8 1278.0 1367.5)" fill="#8f969b" stroke="#15181a" stroke-width="2.1"/><ellipse cx="1278.0" cy="1402.0" rx="4.6" ry="2.5" transform="rotate(-8 1278.0 1402.0)" fill="#8f969b" stroke="#15181a" stroke-width="2.1"/><ellipse cx="923.4" cy="1318.7" rx="2.8" ry="4.0" transform="rotate(-26 923.4 1318.7)" fill="#8f969b" stroke="#15181a" stroke-width="2.2"/><ellipse cx="1010.1" cy="1273.1" rx="2.8" ry="4.0" transform="rotate(-26 1010.1 1273.1)" fill="#8f969b" stroke="#15181a" stroke-width="2.2"/><ellipse cx="952.3" cy="1333.3" rx="2.8" ry="4.0" transform="rotate(-26 952.3 1333.3)" fill="#8f969b" stroke="#15181a" stroke-width="2.2"/><ellipse cx="1039.0" cy="1287.7" rx="2.8" ry="4.0" transform="rotate(-26 1039.0 1287.7)" fill="#8f969b" stroke="#15181a" stroke-width="2.2"/><ellipse cx="981.2" cy="1347.8" rx="2.8" ry="4.0" transform="rotate(-26 981.2 1347.8)" fill="#8f969b" stroke="#15181a" stroke-width="2.2"/><ellipse cx="1067.9" cy="1302.2" rx="2.8" ry="4.0" transform="rotate(-26 1067.9 1302.2)" fill="#8f969b" stroke="#15181a" stroke-width="2.2"/><ellipse cx="1010.1" cy="1362.3" rx="2.8" ry="4.0" transform="rotate(-26 1010.1 1362.3)" fill="#8f969b" stroke="#15181a" stroke-width="2.2"/><ellipse cx="1096.8" cy="1316.7" rx="2.8" ry="4.0" transform="rotate(-26 1096.8 1316.7)" fill="#8f969b" stroke="#15181a" stroke-width="2.2"/><ellipse cx="1039.0" cy="1376.9" rx="2.8" ry="4.0" transform="rotate(-26 1039.0 1376.9)" fill="#8f969b" stroke="#15181a" stroke-width="2.2"/><ellipse cx="1125.7" cy="1331.3" rx="2.8" ry="4.0" transform="rotate(-26 1125.7 1331.3)" fill="#8f969b" stroke="#15181a" stroke-width="2.2"/><ellipse cx="1067.9" cy="1391.4" rx="2.8" ry="4.0" transform="rotate(-26 1067.9 1391.4)" fill="#8f969b" stroke="#15181a" stroke-width="2.2"/><ellipse cx="1154.6" cy="1345.8" rx="2.8" ry="4.0" transform="rotate(-26 1154.6 1345.8)" fill="#8f969b" stroke="#15181a" stroke-width="2.2"/><ellipse cx="1096.8" cy="1406.0" rx="2.8" ry="4.0" transform="rotate(-26 1096.8 1406.0)" fill="#8f969b" stroke="#15181a" stroke-width="2.2"/><ellipse cx="1183.5" cy="1360.4" rx="2.8" ry="4.0" transform="rotate(-26 1183.5 1360.4)" fill="#8f969b" stroke="#15181a" stroke-width="2.2"/><ellipse cx="1125.7" cy="1420.5" rx="2.8" ry="4.0" transform="rotate(-26 1125.7 1420.5)" fill="#8f969b" stroke="#15181a" stroke-width="2.2"/><ellipse cx="1212.4" cy="1374.9" rx="2.8" ry="4.0" transform="rotate(-26 1212.4 1374.9)" fill="#8f969b" stroke="#15181a" stroke-width="2.2"/><ellipse cx="1154.6" cy="1435.0" rx="2.8" ry="4.0" transform="rotate(-26 1154.6 1435.0)" fill="#8f969b" stroke="#15181a" stroke-width="2.2"/><ellipse cx="1241.3" cy="1389.4" rx="2.8" ry="4.0" transform="rotate(-26 1241.3 1389.4)" fill="#8f969b" stroke="#15181a" stroke-width="2.2"/><ellipse cx="1183.5" cy="1449.6" rx="2.8" ry="4.0" transform="rotate(-26 1183.5 1449.6)" fill="#8f969b" stroke="#15181a" stroke-width="2.2"/><ellipse cx="1270.2" cy="1404.0" rx="2.8" ry="4.0" transform="rotate(-26 1270.2 1404.0)" fill="#8f969b" stroke="#15181a" stroke-width="2.2"/><ellipse cx="916.8" cy="1300.5" rx="2.8" ry="4.0" transform="rotate(30 916.8 1300.5)" fill="#8f969b" stroke="#15181a" stroke-width="2.2"/><ellipse cx="1205.8" cy="1445.9" rx="2.8" ry="4.0" transform="rotate(30 1205.8 1445.9)" fill="#8f969b" stroke="#15181a" stroke-width="2.2"/><ellipse cx="945.6" cy="1285.3" rx="2.8" ry="4.0" transform="rotate(30 945.6 1285.3)" fill="#8f969b" stroke="#15181a" stroke-width="2.2"/><ellipse cx="1234.7" cy="1430.7" rx="2.8" ry="4.0" transform="rotate(30 1234.7 1430.7)" fill="#8f969b" stroke="#15181a" stroke-width="2.2"/><ellipse cx="974.5" cy="1270.1" rx="2.8" ry="4.0" transform="rotate(30 974.5 1270.1)" fill="#8f969b" stroke="#15181a" stroke-width="2.2"/><ellipse cx="1263.5" cy="1415.5" rx="2.8" ry="4.0" transform="rotate(30 1263.5 1415.5)" fill="#8f969b" stroke="#15181a" stroke-width="2.2"/><path d="M1111.0,1345.2L1188.0,1251.6M1111.0,1345.2Q1106.0,1340.0 1113.0,1336.0M1188.0,1251.6Q1192.0,1249.0 1183.6,1263.2" stroke="#2f3539" stroke-width="2.8" fill="none" stroke-linecap="round"/><path d="M1111.0,1345.2L1188.0,1251.6M1111.0,1345.2Q1106.0,1340.0 1113.0,1336.0M1188.0,1251.6Q1192.0,1249.0 1183.6,1263.2" stroke="#e8eaeb" stroke-width="1.1" fill="none" stroke-linecap="round"/><circle cx="1192.4" cy="1278.7" r="35.4" fill="none" stroke="#666" stroke-width="0.8" stroke-dasharray="5 2 1 2"/><line x1="1218.5" y1="1253.8" x2="1278.5" y2="1209.5" stroke="#555" stroke-width="0.8" stroke-dasharray="4 2 1 2"/><path d="M1189.5,1254Q1201,1264 1202,1287L1199,1288L1204.6,1300L1208,1287L1205,1287Q1204,1262 1191,1252Z" fill="#8b1a1a" stroke="#4a0a0a" stroke-width="0.5"/><defs><clipPath id="c6"><circle cx="1323" cy="1155.2" r="71.3"/></clipPath></defs><circle cx="1323" cy="1155.2" r="71.8" fill="#fff" stroke="#444" stroke-width="0.9"/><g clip-path="url(#c6)"><line x1="1330.0" y1="1080.0" x2="1330.0" y2="1240.0" stroke="#3b4c5e" stroke-width="4.0" stroke-linecap="round"/><line x1="1330.0" y1="1080.0" x2="1330.0" y2="1240.0" stroke="#a3bdd2" stroke-width="1.9" stroke-linecap="round"/><line x1="1320.0" y1="1155.9" x2="1320.0" y2="1240.0" stroke="#3b4c5e" stroke-width="4.0" stroke-linecap="round"/><line x1="1320.0" y1="1155.9" x2="1320.0" y2="1240.0" stroke="#a3bdd2" stroke-width="1.9" stroke-linecap="round"/><line x1="1261.2" y1="1125.9" x2="1261.2" y2="1240.0" stroke="#3b4c5e" stroke-width="4.0" stroke-linecap="round"/><line x1="1261.2" y1="1125.9" x2="1261.2" y2="1240.0" stroke="#a3bdd2" stroke-width="1.9" stroke-linecap="round"/><line x1="1273.0" y1="1080.0" x2="1273.0" y2="1240.0" stroke="#3b4c5e" stroke-width="4.0" stroke-linecap="round"/><line x1="1273.0" y1="1080.0" x2="1273.0" y2="1240.0" stroke="#a3bdd2" stroke-width="1.9" stroke-linecap="round"/><line x1="1387.6" y1="1127.0" x2="1387.6" y2="1185.0" stroke="#3b4c5e" stroke-width="4.0" stroke-linecap="round"/><line x1="1387.6" y1="1127.0" x2="1387.6" y2="1185.0" stroke="#a3bdd2" stroke-width="1.9" stroke-linecap="round"/><line x1="1280.0" y1="1097.6" x2="1400.0" y2="1156.5" stroke="#3b4c5e" stroke-width="4.0" stroke-linecap="round"/><line x1="1280.0" y1="1097.6" x2="1400.0" y2="1156.5" stroke="#a3bdd2" stroke-width="1.9" stroke-linecap="round"/><line x1="1259.4" y1="1125.9" x2="1322.4" y2="1156.5" stroke="#3b4c5e" stroke-width="4.0" stroke-linecap="round"/><line x1="1259.4" y1="1125.9" x2="1322.4" y2="1156.5" stroke="#a3bdd2" stroke-width="1.9" stroke-linecap="round"/><line x1="1245.0" y1="1149.0" x2="1361.2" y2="1207.6" stroke="#3b4c5e" stroke-width="4.0" stroke-linecap="round"/><line x1="1245.0" y1="1149.0" x2="1361.2" y2="1207.6" stroke="#a3bdd2" stroke-width="1.9" stroke-linecap="round"/><line x1="1258.0" y1="1194.4" x2="1320.0" y2="1225.3" stroke="#3b4c5e" stroke-width="4.0" stroke-linecap="round"/><line x1="1258.0" y1="1194.4" x2="1320.0" y2="1225.3" stroke="#a3bdd2" stroke-width="1.9" stroke-linecap="round"/><line x1="1328.2" y1="1154.7" x2="1392.0" y2="1124.5" stroke="#3b4c5e" stroke-width="4.0" stroke-linecap="round"/><line x1="1328.2" y1="1154.7" x2="1392.0" y2="1124.5" stroke="#a3bdd2" stroke-width="1.9" stroke-linecap="round"/><line x1="1331.8" y1="1223.0" x2="1385.0" y2="1194.0" stroke="#3b4c5e" stroke-width="4.0" stroke-linecap="round"/><line x1="1331.8" y1="1223.0" x2="1385.0" y2="1194.0" stroke="#a3bdd2" stroke-width="1.9" stroke-linecap="round"/><path d="M1254.1,1168.8L1311,1101Q1318,1094 1318.5,1103L1305.3,1124.1" stroke="#444" stroke-width="4.0" fill="none" stroke-linecap="round"/><path d="M1254.1,1168.8L1311,1101Q1318,1094 1318.5,1103L1305.3,1124.1" stroke="#f0f0f0" stroke-width="2.2" fill="none" stroke-linecap="round"/><path d="M1320.5,1107Q1340,1130 1343,1172L1337,1172.5L1347,1196L1352,1170L1347.5,1171Q1344,1128 1322.5,1105Z" fill="#8b1a1a" stroke="#4a0a0a" stroke-width="0.6"/><ellipse cx="1324.1" cy="1214.7" rx="7" ry="3.6" transform="rotate(0 1324.1 1214.7)" fill="none" stroke="#555" stroke-width="1.5"/></g><path d="M236.2,1569.8L582.3,1742.1M236.2,1612.8L582.3,1785.2M236.2,1655.9L582.3,1828.3M236.2,1698.9L582.3,1871.3M236.2,1742.0L582.3,1914.4M236.2,1785.1L582.3,1957.4" stroke="#2f3539" stroke-width="2.6" fill="none" stroke-linecap="round"/><path d="M236.2,1569.8L582.3,1742.1M236.2,1612.8L582.3,1785.2M236.2,1655.9L582.3,1828.3M236.2,1698.9L582.3,1871.3M236.2,1742.0L582.3,1914.4M236.2,1785.1L582.3,1957.4" stroke="#6f787e" stroke-width="0.5" fill="none"/><path d="M237.3,1569.1L237.3,1786.8M271.7,1586.2L271.7,1803.9M306.1,1603.4L306.1,1821.1M340.5,1620.5L340.5,1838.2M374.9,1637.6L374.9,1855.3M409.2,1654.8L409.2,1872.5M443.6,1671.9L443.6,1889.6M478.0,1689.0L478.0,1906.7M512.4,1706.1L512.4,1923.8M546.8,1723.3L546.8,1941.0M581.2,1740.4L581.2,1958.1" stroke="#2f3539" stroke-width="2.6" fill="none" stroke-linecap="round"/><path d="M237.3,1569.1L237.3,1786.8M271.7,1586.2L271.7,1803.9M306.1,1603.4L306.1,1821.1M340.5,1620.5L340.5,1838.2M374.9,1637.6L374.9,1855.3M409.2,1654.8L409.2,1872.5M443.6,1671.9L443.6,1889.6M478.0,1689.0L478.0,1906.7M512.4,1706.1L512.4,1923.8M546.8,1723.3L546.8,1941.0M581.2,1740.4L581.2,1958.1" stroke="#7d868c" stroke-width="0.5" fill="none"/><path d="M124.6,1841.0L231.1,1787.1M159.3,1858.5L265.7,1804.5M193.9,1876.0L300.4,1822.0M228.5,1893.5L335.0,1839.5M263.2,1910.9L369.6,1856.9M297.8,1928.4L404.3,1874.4M332.5,1945.9L438.9,1891.9M367.1,1963.3L473.6,1909.3M401.7,1980.8L508.2,1926.8M436.4,1998.3L542.8,1944.3M471.0,2015.7L577.5,1961.8" stroke="#2f3539" stroke-width="2.6" fill="none" stroke-linecap="round"/><path d="M124.6,1841.0L231.1,1787.1M159.3,1858.5L265.7,1804.5M193.9,1876.0L300.4,1822.0M228.5,1893.5L335.0,1839.5M263.2,1910.9L369.6,1856.9M297.8,1928.4L404.3,1874.4M332.5,1945.9L438.9,1891.9M367.1,1963.3L473.6,1909.3M401.7,1980.8L508.2,1926.8M436.4,1998.3L542.8,1944.3M471.0,2015.7L577.5,1961.8" stroke="#c2c8cc" stroke-width="0.8" fill="none"/><path d="M124.6,1840.0L473.2,2015.7M159.4,1822.3L507.9,1998.1M194.2,1804.7L542.7,1980.5M228.9,1787.1L577.5,1962.8" stroke="#2f3539" stroke-width="2.6" fill="none" stroke-linecap="round"/><path d="M124.6,1840.0L473.2,2015.7M159.4,1822.3L507.9,1998.1M194.2,1804.7L542.7,1980.5M228.9,1787.1L577.5,1962.8" stroke="#6f787e" stroke-width="0.5" fill="none"/><path d="M124.6,1622.2L231.1,1568.3M124.6,1665.3L231.1,1611.3M124.6,1708.4L231.1,1654.4M124.6,1751.4L231.1,1697.4M124.6,1794.5L231.1,1740.5M124.6,1837.5L231.1,1783.6" stroke="#2f3539" stroke-width="2.6" fill="none" stroke-linecap="round"/><path d="M124.6,1622.2L231.1,1568.3M124.6,1665.3L231.1,1611.3M124.6,1708.4L231.1,1654.4M124.6,1751.4L231.1,1697.4M124.6,1794.5L231.1,1740.5M124.6,1837.5L231.1,1783.6" stroke="#c2c8cc" stroke-width="0.8" fill="none"/><path d="M125.7,1620.5L125.7,1838.2M160.5,1602.9L160.5,1820.6M195.2,1585.2L195.2,1802.9M230.0,1567.6L230.0,1785.3" stroke="#2f3539" stroke-width="2.6" fill="none" stroke-linecap="round"/><path d="M125.7,1620.5L125.7,1838.2M160.5,1602.9L160.5,1820.6M195.2,1585.2L195.2,1802.9M230.0,1567.6L230.0,1785.3" stroke="#7d868c" stroke-width="0.5" fill="none"/><path d="M477.3,1795.4L583.8,1741.5M477.3,1838.5L583.8,1784.5M477.3,1881.6L583.8,1827.6M477.3,1924.6L583.8,1870.6M477.3,1967.7L583.8,1913.7M477.3,2010.7L583.8,1956.8" stroke="#2f3539" stroke-width="2.6" fill="none" stroke-linecap="round"/><path d="M477.3,1795.4L583.8,1741.5M477.3,1838.5L583.8,1784.5M477.3,1881.6L583.8,1827.6M477.3,1924.6L583.8,1870.6M477.3,1967.7L583.8,1913.7M477.3,2010.7L583.8,1956.8" stroke="#c2c8cc" stroke-width="0.8" fill="none"/><path d="M478.4,1793.7L478.4,2011.4M513.2,1776.1L513.2,1993.8M547.9,1758.4L547.9,1976.1M582.7,1740.8L582.7,1958.5" stroke="#2f3539" stroke-width="2.6" fill="none" stroke-linecap="round"/><path d="M478.4,1793.7L478.4,2011.4M513.2,1776.1L513.2,1993.8M547.9,1758.4L547.9,1976.1M582.7,1740.8L582.7,1958.5" stroke="#7d868c" stroke-width="0.5" fill="none"/><path d="M124.6,1621.2L473.2,1796.9M124.6,1664.2L473.2,1840.0M124.6,1707.3L473.2,1883.1M124.6,1750.3L473.2,1926.1M124.6,1793.4L473.2,1969.2M124.6,1836.5L473.2,2012.2" stroke="#2f3539" stroke-width="2.6" fill="none" stroke-linecap="round"/><path d="M124.6,1621.2L473.2,1796.9M124.6,1664.2L473.2,1840.0M124.6,1707.3L473.2,1883.1M124.6,1750.3L473.2,1926.1M124.6,1793.4L473.2,1969.2M124.6,1836.5L473.2,2012.2" stroke="#6f787e" stroke-width="0.5" fill="none"/><path d="M125.7,1620.5L125.7,1838.2M160.3,1638.0L160.3,1855.7M195.0,1655.4L195.0,1873.1M229.6,1672.9L229.6,1890.6M264.3,1690.4L264.3,1908.1M298.9,1707.8L298.9,1925.5M333.5,1725.3L333.5,1943.0M368.2,1742.8L368.2,1960.5M402.8,1760.3L402.8,1978.0M437.5,1777.7L437.5,1995.4M472.1,1795.2L472.1,2012.9" stroke="#2f3539" stroke-width="2.6" fill="none" stroke-linecap="round"/><path d="M125.7,1620.5L125.7,1838.2M160.3,1638.0L160.3,1855.7M195.0,1655.4L195.0,1873.1M229.6,1672.9L229.6,1890.6M264.3,1690.4L264.3,1908.1M298.9,1707.8L298.9,1925.5M333.5,1725.3L333.5,1943.0M368.2,1742.8L368.2,1960.5M402.8,1760.3L402.8,1978.0M437.5,1777.7L437.5,1995.4M472.1,1795.2L472.1,2012.9" stroke="#7d868c" stroke-width="0.5" fill="none"/><ellipse cx="125.7" cy="1657.4" rx="4.6" ry="2.5" transform="rotate(-8 125.7 1657.4)" fill="#8f969b" stroke="#15181a" stroke-width="2.1"/><ellipse cx="125.7" cy="1700.5" rx="4.6" ry="2.5" transform="rotate(-8 125.7 1700.5)" fill="#8f969b" stroke="#15181a" stroke-width="2.1"/><ellipse cx="125.7" cy="1743.6" rx="4.6" ry="2.5" transform="rotate(-8 125.7 1743.6)" fill="#8f969b" stroke="#15181a" stroke-width="2.1"/><ellipse cx="125.7" cy="1786.6" rx="4.6" ry="2.5" transform="rotate(-8 125.7 1786.6)" fill="#8f969b" stroke="#15181a" stroke-width="2.1"/><ellipse cx="125.7" cy="1829.7" rx="4.6" ry="2.5" transform="rotate(-8 125.7 1829.7)" fill="#8f969b" stroke="#15181a" stroke-width="2.1"/><ellipse cx="230.0" cy="1604.5" rx="4.6" ry="2.5" transform="rotate(-8 230.0 1604.5)" fill="#8f969b" stroke="#15181a" stroke-width="2.1"/><ellipse cx="230.0" cy="1647.6" rx="4.6" ry="2.5" transform="rotate(-8 230.0 1647.6)" fill="#8f969b" stroke="#15181a" stroke-width="2.1"/><ellipse cx="230.0" cy="1690.7" rx="4.6" ry="2.5" transform="rotate(-8 230.0 1690.7)" fill="#8f969b" stroke="#15181a" stroke-width="2.1"/><ellipse cx="230.0" cy="1733.7" rx="4.6" ry="2.5" transform="rotate(-8 230.0 1733.7)" fill="#8f969b" stroke="#15181a" stroke-width="2.1"/><ellipse cx="230.0" cy="1776.8" rx="4.6" ry="2.5" transform="rotate(-8 230.0 1776.8)" fill="#8f969b" stroke="#15181a" stroke-width="2.1"/><ellipse cx="472.1" cy="1832.1" rx="4.6" ry="2.5" transform="rotate(-8 472.1 1832.1)" fill="#8f969b" stroke="#15181a" stroke-width="2.1"/><ellipse cx="472.1" cy="1875.2" rx="4.6" ry="2.5" transform="rotate(-8 472.1 1875.2)" fill="#8f969b" stroke="#15181a" stroke-width="2.1"/><ellipse cx="472.1" cy="1918.3" rx="4.6" ry="2.5" transform="rotate(-8 472.1 1918.3)" fill="#8f969b" stroke="#15181a" stroke-width="2.1"/><ellipse cx="472.1" cy="1961.3" rx="4.6" ry="2.5" transform="rotate(-8 472.1 1961.3)" fill="#8f969b" stroke="#15181a" stroke-width="2.1"/><ellipse cx="472.1" cy="2004.4" rx="4.6" ry="2.5" transform="rotate(-8 472.1 2004.4)" fill="#8f969b" stroke="#15181a" stroke-width="2.1"/><ellipse cx="576.4" cy="1779.2" rx="4.6" ry="2.5" transform="rotate(-8 576.4 1779.2)" fill="#8f969b" stroke="#15181a" stroke-width="2.1"/><ellipse cx="576.4" cy="1822.3" rx="4.6" ry="2.5" transform="rotate(-8 576.4 1822.3)" fill="#8f969b" stroke="#15181a" stroke-width="2.1"/><ellipse cx="576.4" cy="1865.4" rx="4.6" ry="2.5" transform="rotate(-8 576.4 1865.4)" fill="#8f969b" stroke="#15181a" stroke-width="2.1"/><ellipse cx="576.4" cy="1908.4" rx="4.6" ry="2.5" transform="rotate(-8 576.4 1908.4)" fill="#8f969b" stroke="#15181a" stroke-width="2.1"/><ellipse cx="576.4" cy="1951.5" rx="4.6" ry="2.5" transform="rotate(-8 576.4 1951.5)" fill="#8f969b" stroke="#15181a" stroke-width="2.1"/><ellipse cx="151.0" cy="1849.8" rx="2.8" ry="4.0" transform="rotate(-26 151.0 1849.8)" fill="#8f969b" stroke="#15181a" stroke-width="2.2"/><ellipse cx="255.3" cy="1796.9" rx="2.8" ry="4.0" transform="rotate(-26 255.3 1796.9)" fill="#8f969b" stroke="#15181a" stroke-width="2.2"/><ellipse cx="185.6" cy="1867.2" rx="2.8" ry="4.0" transform="rotate(-26 185.6 1867.2)" fill="#8f969b" stroke="#15181a" stroke-width="2.2"/><ellipse cx="289.9" cy="1814.3" rx="2.8" ry="4.0" transform="rotate(-26 289.9 1814.3)" fill="#8f969b" stroke="#15181a" stroke-width="2.2"/><ellipse cx="220.3" cy="1884.7" rx="2.8" ry="4.0" transform="rotate(-26 220.3 1884.7)" fill="#8f969b" stroke="#15181a" stroke-width="2.2"/><ellipse cx="324.6" cy="1831.8" rx="2.8" ry="4.0" transform="rotate(-26 324.6 1831.8)" fill="#8f969b" stroke="#15181a" stroke-width="2.2"/><ellipse cx="254.9" cy="1902.2" rx="2.8" ry="4.0" transform="rotate(-26 254.9 1902.2)" fill="#8f969b" stroke="#15181a" stroke-width="2.2"/><ellipse cx="359.2" cy="1849.3" rx="2.8" ry="4.0" transform="rotate(-26 359.2 1849.3)" fill="#8f969b" stroke="#15181a" stroke-width="2.2"/><ellipse cx="289.5" cy="1919.6" rx="2.8" ry="4.0" transform="rotate(-26 289.5 1919.6)" fill="#8f969b" stroke="#15181a" stroke-width="2.2"/><ellipse cx="393.8" cy="1866.7" rx="2.8" ry="4.0" transform="rotate(-26 393.8 1866.7)" fill="#8f969b" stroke="#15181a" stroke-width="2.2"/><ellipse cx="324.2" cy="1937.1" rx="2.8" ry="4.0" transform="rotate(-26 324.2 1937.1)" fill="#8f969b" stroke="#15181a" stroke-width="2.2"/><ellipse cx="428.5" cy="1884.2" rx="2.8" ry="4.0" transform="rotate(-26 428.5 1884.2)" fill="#8f969b" stroke="#15181a" stroke-width="2.2"/><ellipse cx="358.8" cy="1954.6" rx="2.8" ry="4.0" transform="rotate(-26 358.8 1954.6)" fill="#8f969b" stroke="#15181a" stroke-width="2.2"/><ellipse cx="463.1" cy="1901.7" rx="2.8" ry="4.0" transform="rotate(-26 463.1 1901.7)" fill="#8f969b" stroke="#15181a" stroke-width="2.2"/><ellipse cx="393.5" cy="1972.0" rx="2.8" ry="4.0" transform="rotate(-26 393.5 1972.0)" fill="#8f969b" stroke="#15181a" stroke-width="2.2"/><ellipse cx="497.8" cy="1919.1" rx="2.8" ry="4.0" transform="rotate(-26 497.8 1919.1)" fill="#8f969b" stroke="#15181a" stroke-width="2.2"/><ellipse cx="428.1" cy="1989.5" rx="2.8" ry="4.0" transform="rotate(-26 428.1 1989.5)" fill="#8f969b" stroke="#15181a" stroke-width="2.2"/><ellipse cx="532.4" cy="1936.6" rx="2.8" ry="4.0" transform="rotate(-26 532.4 1936.6)" fill="#8f969b" stroke="#15181a" stroke-width="2.2"/><ellipse cx="462.7" cy="2007.0" rx="2.8" ry="4.0" transform="rotate(-26 462.7 2007.0)" fill="#8f969b" stroke="#15181a" stroke-width="2.2"/><ellipse cx="567.0" cy="1954.1" rx="2.8" ry="4.0" transform="rotate(-26 567.0 1954.1)" fill="#8f969b" stroke="#15181a" stroke-width="2.2"/><ellipse cx="143.1" cy="1828.2" rx="2.8" ry="4.0" transform="rotate(30 143.1 1828.2)" fill="#8f969b" stroke="#15181a" stroke-width="2.2"/><ellipse cx="489.5" cy="2002.9" rx="2.8" ry="4.0" transform="rotate(30 489.5 2002.9)" fill="#8f969b" stroke="#15181a" stroke-width="2.2"/><ellipse cx="177.8" cy="1810.6" rx="2.8" ry="4.0" transform="rotate(30 177.8 1810.6)" fill="#8f969b" stroke="#15181a" stroke-width="2.2"/><ellipse cx="524.2" cy="1985.2" rx="2.8" ry="4.0" transform="rotate(30 524.2 1985.2)" fill="#8f969b" stroke="#15181a" stroke-width="2.2"/><ellipse cx="212.6" cy="1792.9" rx="2.8" ry="4.0" transform="rotate(30 212.6 1792.9)" fill="#8f969b" stroke="#15181a" stroke-width="2.2"/><ellipse cx="559.0" cy="1967.6" rx="2.8" ry="4.0" transform="rotate(30 559.0 1967.6)" fill="#8f969b" stroke="#15181a" stroke-width="2.2"/><path d="M225.2,1713.4L330.4,1660.8M225.2,1713.4Q217.2,1711.4 222.2,1719.4M330.4,1660.8Q338.4,1656.8 331.4,1667.8" stroke="#2f3539" stroke-width="2.8" fill="none" stroke-linecap="round"/><path d="M225.2,1713.4L330.4,1660.8M225.2,1713.4Q217.2,1711.4 222.2,1719.4M330.4,1660.8Q338.4,1656.8 331.4,1667.8" stroke="#e8eaeb" stroke-width="1.1" fill="none" stroke-linecap="round"/><path d="M225.2,1797.8L330.4,1745.2M225.2,1797.8Q217.2,1795.8 222.2,1803.8M330.4,1745.2Q338.4,1741.2 331.4,1752.2" stroke="#2f3539" stroke-width="2.8" fill="none" stroke-linecap="round"/><path d="M225.2,1797.8L330.4,1745.2M225.2,1797.8Q217.2,1795.8 222.2,1803.8M330.4,1745.2Q338.4,1741.2 331.4,1752.2" stroke="#e8eaeb" stroke-width="1.1" fill="none" stroke-linecap="round"/><path d="M380.2,1790.9L484.0,1738.3M380.2,1790.9Q372.2,1788.9 377.2,1796.9M484.0,1738.3Q492.0,1734.3 485.0,1745.3" stroke="#2f3539" stroke-width="2.8" fill="none" stroke-linecap="round"/><path d="M380.2,1790.9L484.0,1738.3M380.2,1790.9Q372.2,1788.9 377.2,1796.9M484.0,1738.3Q492.0,1734.3 485.0,1745.3" stroke="#e8eaeb" stroke-width="1.1" fill="none" stroke-linecap="round"/><path d="M380.2,1875.3L484.0,1822.7M380.2,1875.3Q372.2,1873.3 377.2,1881.3M484.0,1822.7Q492.0,1818.7 485.0,1829.7" stroke="#2f3539" stroke-width="2.8" fill="none" stroke-linecap="round"/><path d="M380.2,1875.3L484.0,1822.7M380.2,1875.3Q372.2,1873.3 377.2,1881.3M484.0,1822.7Q492.0,1818.7 485.0,1829.7" stroke="#e8eaeb" stroke-width="1.1" fill="none" stroke-linecap="round"/><polygon points="191.5,1727.7 203.1,1722.3 204.0,1724.3 208.6,1717.5 200.5,1716.6 201.4,1718.5 189.7,1723.9" fill="#e3262b" stroke="#9a1010" stroke-width="0.5" stroke-linejoin="round"/><polygon points="191.4,1812.2 202.8,1807.8 203.6,1809.8 208.6,1803.3 200.5,1801.8 201.3,1803.8 189.8,1808.2" fill="#e3262b" stroke="#9a1010" stroke-width="0.5" stroke-linejoin="round"/><polygon points="346.6,1806.5 358.4,1800.2 359.5,1802.1 363.6,1795.0 355.4,1794.6 356.4,1796.5 344.6,1802.9" fill="#e3262b" stroke="#9a1010" stroke-width="0.5" stroke-linejoin="round"/><polygon points="346.5,1889.6 358.1,1884.2 359.0,1886.2 363.6,1879.4 355.5,1878.5 356.4,1880.4 344.7,1885.8" fill="#e3262b" stroke="#9a1010" stroke-width="0.5" stroke-linejoin="round"/><path d="M904.7,1605.0L1333.9,1725.9M904.7,1647.5L1333.9,1768.4M904.7,1690.0L1333.9,1810.9M904.7,1732.5L1333.9,1853.4M904.7,1775.0L1333.9,1895.9M904.7,1817.5L1333.9,1938.4" stroke="#2f3539" stroke-width="2.6" fill="none" stroke-linecap="round"/><path d="M904.7,1605.0L1333.9,1725.9M904.7,1647.5L1333.9,1768.4M904.7,1690.0L1333.9,1810.9M904.7,1732.5L1333.9,1853.4M904.7,1775.0L1333.9,1895.9M904.7,1817.5L1333.9,1938.4" stroke="#6f787e" stroke-width="0.5" fill="none"/><path d="M905.9,1604.1L905.9,1819.0M948.6,1616.1L948.6,1831.0M991.3,1628.2L991.3,1843.1M1033.9,1640.2L1033.9,1855.1M1076.6,1652.2L1076.6,1867.1M1119.3,1664.2L1119.3,1879.2M1162.0,1676.3L1162.0,1891.2M1204.7,1688.3L1204.7,1903.2M1247.3,1700.3L1247.3,1915.2M1290.0,1712.4L1290.0,1927.3M1332.7,1724.4L1332.7,1939.3" stroke="#2f3539" stroke-width="2.6" fill="none" stroke-linecap="round"/><path d="M905.9,1604.1L905.9,1819.0M948.6,1616.1L948.6,1831.0M991.3,1628.2L991.3,1843.1M1033.9,1640.2L1033.9,1855.1M1076.6,1652.2L1076.6,1867.1M1119.3,1664.2L1119.3,1879.2M1162.0,1676.3L1162.0,1891.2M1204.7,1688.3L1204.7,1903.2M1247.3,1700.3L1247.3,1915.2M1290.0,1712.4L1290.0,1927.3M1332.7,1724.4L1332.7,1939.3" stroke="#7d868c" stroke-width="0.5" fill="none"/><path d="M826.1,1882.9L904.3,1816.0M868.8,1894.9L947.0,1828.1M911.4,1906.9L989.7,1840.1M954.1,1919.0L1032.4,1852.1M996.8,1931.0L1075.0,1864.1M1039.5,1943.0L1117.7,1876.2M1082.2,1955.1L1160.4,1888.2M1124.8,1967.1L1203.1,1900.2M1167.5,1979.1L1245.8,1912.3M1210.2,1991.1L1288.4,1924.3M1252.9,2003.2L1331.1,1936.3" stroke="#2f3539" stroke-width="2.6" fill="none" stroke-linecap="round"/><path d="M826.1,1882.9L904.3,1816.0M868.8,1894.9L947.0,1828.1M911.4,1906.9L989.7,1840.1M954.1,1919.0L1032.4,1852.1M996.8,1931.0L1075.0,1864.1M1039.5,1943.0L1117.7,1876.2M1082.2,1955.1L1160.4,1888.2M1124.8,1967.1L1203.1,1900.2M1167.5,1979.1L1245.8,1912.3M1210.2,1991.1L1288.4,1924.3M1252.9,2003.2L1331.1,1936.3" stroke="#c2c8cc" stroke-width="0.8" fill="none"/><path d="M825.8,1881.8L1255.0,2002.7M851.3,1860.0L1280.4,1981.0M876.8,1838.2L1305.9,1959.2M902.2,1816.5L1331.4,1937.4" stroke="#2f3539" stroke-width="2.6" fill="none" stroke-linecap="round"/><path d="M825.8,1881.8L1255.0,2002.7M851.3,1860.0L1280.4,1981.0M876.8,1838.2L1305.9,1959.2M902.2,1816.5L1331.4,1937.4" stroke="#6f787e" stroke-width="0.5" fill="none"/><path d="M826.1,1670.4L904.3,1603.5M826.1,1712.9L904.3,1646.0M826.1,1755.4L904.3,1688.5M826.1,1797.9L904.3,1731.0M826.1,1840.4L904.3,1773.5M826.1,1882.9L904.3,1816.0" stroke="#2f3539" stroke-width="2.6" fill="none" stroke-linecap="round"/><path d="M826.1,1670.4L904.3,1603.5M826.1,1712.9L904.3,1646.0M826.1,1755.4L904.3,1688.5M826.1,1797.9L904.3,1731.0M826.1,1840.4L904.3,1773.5M826.1,1882.9L904.3,1816.0" stroke="#c2c8cc" stroke-width="0.8" fill="none"/><path d="M827.0,1668.4L827.0,1883.3M852.5,1646.6L852.5,1861.5M877.9,1624.9L877.9,1839.8M903.4,1603.1L903.4,1818.0" stroke="#2f3539" stroke-width="2.6" fill="none" stroke-linecap="round"/><path d="M827.0,1668.4L827.0,1883.3M852.5,1646.6L852.5,1861.5M877.9,1624.9L877.9,1839.8M903.4,1603.1L903.4,1818.0" stroke="#7d868c" stroke-width="0.5" fill="none"/><path d="M1252.9,1790.7L1331.1,1723.8M1252.9,1833.2L1331.1,1766.3M1252.9,1875.7L1331.1,1808.8M1252.9,1918.2L1331.1,1851.3M1252.9,1960.7L1331.1,1893.8M1252.9,2003.2L1331.1,1936.3" stroke="#2f3539" stroke-width="2.6" fill="none" stroke-linecap="round"/><path d="M1252.9,1790.7L1331.1,1723.8M1252.9,1833.2L1331.1,1766.3M1252.9,1875.7L1331.1,1808.8M1252.9,1918.2L1331.1,1851.3M1252.9,1960.7L1331.1,1893.8M1252.9,2003.2L1331.1,1936.3" stroke="#c2c8cc" stroke-width="0.8" fill="none"/><path d="M1253.8,1788.7L1253.8,2003.6M1279.3,1766.9L1279.3,1981.8M1304.7,1745.2L1304.7,1960.1M1330.2,1723.4L1330.2,1938.3" stroke="#2f3539" stroke-width="2.6" fill="none" stroke-linecap="round"/><path d="M1253.8,1788.7L1253.8,2003.6M1279.3,1766.9L1279.3,1981.8M1304.7,1745.2L1304.7,1960.1M1330.2,1723.4L1330.2,1938.3" stroke="#7d868c" stroke-width="0.5" fill="none"/><path d="M825.8,1669.3L1255.0,1790.2M825.8,1711.8L1255.0,1832.7M825.8,1754.3L1255.0,1875.2M825.8,1796.8L1255.0,1917.7M825.8,1839.3L1255.0,1960.2M825.8,1881.8L1255.0,2002.7" stroke="#2f3539" stroke-width="2.6" fill="none" stroke-linecap="round"/><path d="M825.8,1669.3L1255.0,1790.2M825.8,1711.8L1255.0,1832.7M825.8,1754.3L1255.0,1875.2M825.8,1796.8L1255.0,1917.7M825.8,1839.3L1255.0,1960.2M825.8,1881.8L1255.0,2002.7" stroke="#6f787e" stroke-width="0.5" fill="none"/><path d="M827.0,1668.4L827.0,1883.3M869.7,1680.4L869.7,1895.3M912.4,1692.5L912.4,1907.4M955.0,1704.5L955.0,1919.4M997.7,1716.5L997.7,1931.4M1040.4,1728.5L1040.4,1943.5M1083.1,1740.6L1083.1,1955.5M1125.8,1752.6L1125.8,1967.5M1168.4,1764.6L1168.4,1979.5M1211.1,1776.7L1211.1,1991.6M1253.8,1788.7L1253.8,2003.6" stroke="#2f3539" stroke-width="2.6" fill="none" stroke-linecap="round"/><path d="M827.0,1668.4L827.0,1883.3M869.7,1680.4L869.7,1895.3M912.4,1692.5L912.4,1907.4M955.0,1704.5L955.0,1919.4M997.7,1716.5L997.7,1931.4M1040.4,1728.5L1040.4,1943.5M1083.1,1740.6L1083.1,1955.5M1125.8,1752.6L1125.8,1967.5M1168.4,1764.6L1168.4,1979.5M1211.1,1776.7L1211.1,1991.6M1253.8,1788.7L1253.8,2003.6" stroke="#7d868c" stroke-width="0.5" fill="none"/><path d="M826.1,1670.4L904.3,1603.5M868.8,1682.4L947.0,1615.6M911.4,1694.4L989.7,1627.6M954.1,1706.5L1032.4,1639.6M996.8,1718.5L1075.0,1651.6M1039.5,1730.5L1117.7,1663.7M1082.2,1742.6L1160.4,1675.7M1124.8,1754.6L1203.1,1687.7M1167.5,1766.6L1245.8,1699.8M1210.2,1778.6L1288.4,1711.8M1252.9,1790.7L1331.1,1723.8" stroke="#2f3539" stroke-width="2.6" fill="none" stroke-linecap="round"/><path d="M826.1,1670.4L904.3,1603.5M868.8,1682.4L947.0,1615.6M911.4,1694.4L989.7,1627.6M954.1,1706.5L1032.4,1639.6M996.8,1718.5L1075.0,1651.6M1039.5,1730.5L1117.7,1663.7M1082.2,1742.6L1160.4,1675.7M1124.8,1754.6L1203.1,1687.7M1167.5,1766.6L1245.8,1699.8M1210.2,1778.6L1288.4,1711.8M1252.9,1790.7L1331.1,1723.8" stroke="#c2c8cc" stroke-width="0.8" fill="none"/><path d="M825.8,1669.3L1255.0,1790.2M851.3,1647.5L1280.4,1768.5M876.8,1625.7L1305.9,1746.7M902.2,1604.0L1331.4,1724.9" stroke="#2f3539" stroke-width="2.6" fill="none" stroke-linecap="round"/><path d="M825.8,1669.3L1255.0,1790.2M851.3,1647.5L1280.4,1768.5M876.8,1625.7L1305.9,1746.7M902.2,1604.0L1331.4,1724.9" stroke="#6f787e" stroke-width="0.5" fill="none"/><path d="M826.1,1665.9L904.3,1599.0M868.8,1677.9L947.0,1611.1M911.4,1689.9L989.7,1623.1M954.1,1702.0L1032.4,1635.1M996.8,1714.0L1075.0,1647.1M1039.5,1726.0L1117.7,1659.2M1082.2,1738.1L1160.4,1671.2M1124.8,1750.1L1203.1,1683.2M1167.5,1762.1L1245.8,1695.3M1210.2,1774.1L1288.4,1707.3M1252.9,1786.2L1331.1,1719.3" stroke="#2f3539" stroke-width="2.6" fill="none" stroke-linecap="round"/><path d="M826.1,1665.9L904.3,1599.0M868.8,1677.9L947.0,1611.1M911.4,1689.9L989.7,1623.1M954.1,1702.0L1032.4,1635.1M996.8,1714.0L1075.0,1647.1M1039.5,1726.0L1117.7,1659.2M1082.2,1738.1L1160.4,1671.2M1124.8,1750.1L1203.1,1683.2M1167.5,1762.1L1245.8,1695.3M1210.2,1774.1L1288.4,1707.3M1252.9,1786.2L1331.1,1719.3" stroke="#c2c8cc" stroke-width="0.8" fill="none"/><path d="M825.8,1664.8L1255.0,1785.7M851.3,1643.0L1280.4,1764.0M876.8,1621.2L1305.9,1742.2M902.2,1599.5L1331.4,1720.4" stroke="#2f3539" stroke-width="2.6" fill="none" stroke-linecap="round"/><path d="M825.8,1664.8L1255.0,1785.7M851.3,1643.0L1280.4,1764.0M876.8,1621.2L1305.9,1742.2M902.2,1599.5L1331.4,1720.4" stroke="#6f787e" stroke-width="0.5" fill="none"/><ellipse cx="827.0" cy="1704.9" rx="4.6" ry="2.5" transform="rotate(-8 827.0 1704.9)" fill="#8f969b" stroke="#15181a" stroke-width="2.1"/><ellipse cx="827.0" cy="1747.4" rx="4.6" ry="2.5" transform="rotate(-8 827.0 1747.4)" fill="#8f969b" stroke="#15181a" stroke-width="2.1"/><ellipse cx="827.0" cy="1789.9" rx="4.6" ry="2.5" transform="rotate(-8 827.0 1789.9)" fill="#8f969b" stroke="#15181a" stroke-width="2.1"/><ellipse cx="827.0" cy="1832.4" rx="4.6" ry="2.5" transform="rotate(-8 827.0 1832.4)" fill="#8f969b" stroke="#15181a" stroke-width="2.1"/><ellipse cx="827.0" cy="1874.9" rx="4.6" ry="2.5" transform="rotate(-8 827.0 1874.9)" fill="#8f969b" stroke="#15181a" stroke-width="2.1"/><ellipse cx="903.4" cy="1639.6" rx="4.6" ry="2.5" transform="rotate(-8 903.4 1639.6)" fill="#8f969b" stroke="#15181a" stroke-width="2.1"/><ellipse cx="903.4" cy="1682.1" rx="4.6" ry="2.5" transform="rotate(-8 903.4 1682.1)" fill="#8f969b" stroke="#15181a" stroke-width="2.1"/><ellipse cx="903.4" cy="1724.6" rx="4.6" ry="2.5" transform="rotate(-8 903.4 1724.6)" fill="#8f969b" stroke="#15181a" stroke-width="2.1"/><ellipse cx="903.4" cy="1767.1" rx="4.6" ry="2.5" transform="rotate(-8 903.4 1767.1)" fill="#8f969b" stroke="#15181a" stroke-width="2.1"/><ellipse cx="903.4" cy="1809.6" rx="4.6" ry="2.5" transform="rotate(-8 903.4 1809.6)" fill="#8f969b" stroke="#15181a" stroke-width="2.1"/><ellipse cx="1253.8" cy="1825.2" rx="4.6" ry="2.5" transform="rotate(-8 1253.8 1825.2)" fill="#8f969b" stroke="#15181a" stroke-width="2.1"/><ellipse cx="1253.8" cy="1867.7" rx="4.6" ry="2.5" transform="rotate(-8 1253.8 1867.7)" fill="#8f969b" stroke="#15181a" stroke-width="2.1"/><ellipse cx="1253.8" cy="1910.2" rx="4.6" ry="2.5" transform="rotate(-8 1253.8 1910.2)" fill="#8f969b" stroke="#15181a" stroke-width="2.1"/><ellipse cx="1253.8" cy="1952.7" rx="4.6" ry="2.5" transform="rotate(-8 1253.8 1952.7)" fill="#8f969b" stroke="#15181a" stroke-width="2.1"/><ellipse cx="1253.8" cy="1995.2" rx="4.6" ry="2.5" transform="rotate(-8 1253.8 1995.2)" fill="#8f969b" stroke="#15181a" stroke-width="2.1"/><ellipse cx="1330.2" cy="1759.9" rx="4.6" ry="2.5" transform="rotate(-8 1330.2 1759.9)" fill="#8f969b" stroke="#15181a" stroke-width="2.1"/><ellipse cx="1330.2" cy="1802.4" rx="4.6" ry="2.5" transform="rotate(-8 1330.2 1802.4)" fill="#8f969b" stroke="#15181a" stroke-width="2.1"/><ellipse cx="1330.2" cy="1844.9" rx="4.6" ry="2.5" transform="rotate(-8 1330.2 1844.9)" fill="#8f969b" stroke="#15181a" stroke-width="2.1"/><ellipse cx="1330.2" cy="1887.4" rx="4.6" ry="2.5" transform="rotate(-8 1330.2 1887.4)" fill="#8f969b" stroke="#15181a" stroke-width="2.1"/><ellipse cx="1330.2" cy="1929.9" rx="4.6" ry="2.5" transform="rotate(-8 1330.2 1929.9)" fill="#8f969b" stroke="#15181a" stroke-width="2.1"/><ellipse cx="858.2" cy="1890.9" rx="2.8" ry="4.0" transform="rotate(-60 858.2 1890.9)" fill="#8f969b" stroke="#15181a" stroke-width="2.2"/><ellipse cx="934.6" cy="1825.6" rx="2.8" ry="4.0" transform="rotate(-60 934.6 1825.6)" fill="#8f969b" stroke="#15181a" stroke-width="2.2"/><ellipse cx="900.8" cy="1902.9" rx="2.8" ry="4.0" transform="rotate(-60 900.8 1902.9)" fill="#8f969b" stroke="#15181a" stroke-width="2.2"/><ellipse cx="977.2" cy="1837.6" rx="2.8" ry="4.0" transform="rotate(-60 977.2 1837.6)" fill="#8f969b" stroke="#15181a" stroke-width="2.2"/><ellipse cx="943.5" cy="1914.9" rx="2.8" ry="4.0" transform="rotate(-60 943.5 1914.9)" fill="#8f969b" stroke="#15181a" stroke-width="2.2"/><ellipse cx="1019.9" cy="1849.6" rx="2.8" ry="4.0" transform="rotate(-60 1019.9 1849.6)" fill="#8f969b" stroke="#15181a" stroke-width="2.2"/><ellipse cx="986.2" cy="1927.0" rx="2.8" ry="4.0" transform="rotate(-60 986.2 1927.0)" fill="#8f969b" stroke="#15181a" stroke-width="2.2"/><ellipse cx="1062.6" cy="1861.7" rx="2.8" ry="4.0" transform="rotate(-60 1062.6 1861.7)" fill="#8f969b" stroke="#15181a" stroke-width="2.2"/><ellipse cx="1028.9" cy="1939.0" rx="2.8" ry="4.0" transform="rotate(-60 1028.9 1939.0)" fill="#8f969b" stroke="#15181a" stroke-width="2.2"/><ellipse cx="1105.3" cy="1873.7" rx="2.8" ry="4.0" transform="rotate(-60 1105.3 1873.7)" fill="#8f969b" stroke="#15181a" stroke-width="2.2"/><ellipse cx="1071.6" cy="1951.0" rx="2.8" ry="4.0" transform="rotate(-60 1071.6 1951.0)" fill="#8f969b" stroke="#15181a" stroke-width="2.2"/><ellipse cx="1148.0" cy="1885.7" rx="2.8" ry="4.0" transform="rotate(-60 1148.0 1885.7)" fill="#8f969b" stroke="#15181a" stroke-width="2.2"/><ellipse cx="1114.2" cy="1963.1" rx="2.8" ry="4.0" transform="rotate(-60 1114.2 1963.1)" fill="#8f969b" stroke="#15181a" stroke-width="2.2"/><ellipse cx="1190.6" cy="1897.8" rx="2.8" ry="4.0" transform="rotate(-60 1190.6 1897.8)" fill="#8f969b" stroke="#15181a" stroke-width="2.2"/><ellipse cx="1156.9" cy="1975.1" rx="2.8" ry="4.0" transform="rotate(-60 1156.9 1975.1)" fill="#8f969b" stroke="#15181a" stroke-width="2.2"/><ellipse cx="1233.3" cy="1909.8" rx="2.8" ry="4.0" transform="rotate(-60 1233.3 1909.8)" fill="#8f969b" stroke="#15181a" stroke-width="2.2"/><ellipse cx="1199.6" cy="1987.1" rx="2.8" ry="4.0" transform="rotate(-60 1199.6 1987.1)" fill="#8f969b" stroke="#15181a" stroke-width="2.2"/><ellipse cx="1276.0" cy="1921.8" rx="2.8" ry="4.0" transform="rotate(-60 1276.0 1921.8)" fill="#8f969b" stroke="#15181a" stroke-width="2.2"/><ellipse cx="1242.3" cy="1999.2" rx="2.8" ry="4.0" transform="rotate(-60 1242.3 1999.2)" fill="#8f969b" stroke="#15181a" stroke-width="2.2"/><ellipse cx="1318.7" cy="1933.9" rx="2.8" ry="4.0" transform="rotate(-60 1318.7 1933.9)" fill="#8f969b" stroke="#15181a" stroke-width="2.2"/><ellipse cx="839.7" cy="1871.2" rx="2.8" ry="4.0" transform="rotate(30 839.7 1871.2)" fill="#8f969b" stroke="#15181a" stroke-width="2.2"/><ellipse cx="1266.5" cy="1991.5" rx="2.8" ry="4.0" transform="rotate(30 1266.5 1991.5)" fill="#8f969b" stroke="#15181a" stroke-width="2.2"/><ellipse cx="865.2" cy="1849.4" rx="2.8" ry="4.0" transform="rotate(30 865.2 1849.4)" fill="#8f969b" stroke="#15181a" stroke-width="2.2"/><ellipse cx="1292.0" cy="1969.8" rx="2.8" ry="4.0" transform="rotate(30 1292.0 1969.8)" fill="#8f969b" stroke="#15181a" stroke-width="2.2"/><ellipse cx="890.7" cy="1827.7" rx="2.8" ry="4.0" transform="rotate(30 890.7 1827.7)" fill="#8f969b" stroke="#15181a" stroke-width="2.2"/><ellipse cx="1317.5" cy="1948.0" rx="2.8" ry="4.0" transform="rotate(30 1317.5 1948.0)" fill="#8f969b" stroke="#15181a" stroke-width="2.2"/><ellipse cx="852.6" cy="1672.3" rx="2.6" ry="3.8" transform="rotate(-60 852.6 1672.3)" fill="#8f969b" stroke="#15181a" stroke-width="2.0"/><polygon points="850.4,1640.3 850.4,1652.3 848.4,1652.3 852.6,1660.3 856.9,1652.3 854.8,1652.3 854.8,1640.3" fill="#8c1f1f" stroke="#4a0c0c" stroke-width="0.6" stroke-linejoin="round"/><ellipse cx="929.0" cy="1607.0" rx="2.6" ry="3.8" transform="rotate(-60 929.0 1607.0)" fill="#8f969b" stroke="#15181a" stroke-width="2.0"/><polygon points="926.8,1575.0 926.8,1587.0 924.8,1587.0 929.0,1595.0 933.3,1587.0 931.2,1587.0 931.2,1575.0" fill="#8c1f1f" stroke="#4a0c0c" stroke-width="0.6" stroke-linejoin="round"/><ellipse cx="895.3" cy="1684.3" rx="2.6" ry="3.8" transform="rotate(-60 895.3 1684.3)" fill="#8f969b" stroke="#15181a" stroke-width="2.0"/><polygon points="893.1,1652.3 893.1,1664.3 891.0,1664.3 895.3,1672.3 899.5,1664.3 897.5,1664.3 897.5,1652.3" fill="#8c1f1f" stroke="#4a0c0c" stroke-width="0.6" stroke-linejoin="round"/><ellipse cx="971.7" cy="1619.0" rx="2.6" ry="3.8" transform="rotate(-60 971.7 1619.0)" fill="#8f969b" stroke="#15181a" stroke-width="2.0"/><polygon points="969.5,1587.0 969.5,1599.0 967.4,1599.0 971.7,1607.0 975.9,1599.0 973.9,1599.0 973.9,1587.0" fill="#8c1f1f" stroke="#4a0c0c" stroke-width="0.6" stroke-linejoin="round"/><ellipse cx="938.0" cy="1696.4" rx="2.6" ry="3.8" transform="rotate(-60 938.0 1696.4)" fill="#8f969b" stroke="#15181a" stroke-width="2.0"/><polygon points="935.8,1664.4 935.8,1676.4 933.7,1676.4 938.0,1684.4 942.2,1676.4 940.2,1676.4 940.2,1664.4" fill="#8c1f1f" stroke="#4a0c0c" stroke-width="0.6" stroke-linejoin="round"/><ellipse cx="1014.4" cy="1631.1" rx="2.6" ry="3.8" transform="rotate(-60 1014.4 1631.1)" fill="#8f969b" stroke="#15181a" stroke-width="2.0"/><polygon points="1012.2,1599.1 1012.2,1611.1 1010.1,1611.1 1014.4,1619.1 1018.6,1611.1 1016.6,1611.1 1016.6,1599.1" fill="#8c1f1f" stroke="#4a0c0c" stroke-width="0.6" stroke-linejoin="round"/><ellipse cx="980.6" cy="1708.4" rx="2.6" ry="3.8" transform="rotate(-60 980.6 1708.4)" fill="#8f969b" stroke="#15181a" stroke-width="2.0"/><polygon points="978.4,1676.4 978.4,1688.4 976.4,1688.4 980.6,1696.4 984.9,1688.4 982.8,1688.4 982.8,1676.4" fill="#8c1f1f" stroke="#4a0c0c" stroke-width="0.6" stroke-linejoin="round"/><ellipse cx="1057.0" cy="1643.1" rx="2.6" ry="3.8" transform="rotate(-60 1057.0 1643.1)" fill="#8f969b" stroke="#15181a" stroke-width="2.0"/><polygon points="1054.8,1611.1 1054.8,1623.1 1052.8,1623.1 1057.0,1631.1 1061.3,1623.1 1059.2,1623.1 1059.2,1611.1" fill="#8c1f1f" stroke="#4a0c0c" stroke-width="0.6" stroke-linejoin="round"/><ellipse cx="1023.3" cy="1720.4" rx="2.6" ry="3.8" transform="rotate(-60 1023.3 1720.4)" fill="#8f969b" stroke="#15181a" stroke-width="2.0"/><polygon points="1021.1,1688.4 1021.1,1700.4 1019.1,1700.4 1023.3,1708.4 1027.6,1700.4 1025.5,1700.4 1025.5,1688.4" fill="#8c1f1f" stroke="#4a0c0c" stroke-width="0.6" stroke-linejoin="round"/><ellipse cx="1099.7" cy="1655.1" rx="2.6" ry="3.8" transform="rotate(-60 1099.7 1655.1)" fill="#8f969b" stroke="#15181a" stroke-width="2.0"/><polygon points="1097.5,1623.1 1097.5,1635.1 1095.5,1635.1 1099.7,1643.1 1104.0,1635.1 1101.9,1635.1 1101.9,1623.1" fill="#8c1f1f" stroke="#4a0c0c" stroke-width="0.6" stroke-linejoin="round"/><ellipse cx="1066.0" cy="1732.5" rx="2.6" ry="3.8" transform="rotate(-60 1066.0 1732.5)" fill="#8f969b" stroke="#15181a" stroke-width="2.0"/><polygon points="1063.8,1700.5 1063.8,1712.5 1061.8,1712.5 1066.0,1720.5 1070.3,1712.5 1068.2,1712.5 1068.2,1700.5" fill="#8c1f1f" stroke="#4a0c0c" stroke-width="0.6" stroke-linejoin="round"/><ellipse cx="1142.4" cy="1667.2" rx="2.6" ry="3.8" transform="rotate(-60 1142.4 1667.2)" fill="#8f969b" stroke="#15181a" stroke-width="2.0"/><polygon points="1140.2,1635.2 1140.2,1647.2 1138.2,1647.2 1142.4,1655.2 1146.7,1647.2 1144.6,1647.2 1144.6,1635.2" fill="#8c1f1f" stroke="#4a0c0c" stroke-width="0.6" stroke-linejoin="round"/><ellipse cx="1108.7" cy="1744.5" rx="2.6" ry="3.8" transform="rotate(-60 1108.7 1744.5)" fill="#8f969b" stroke="#15181a" stroke-width="2.0"/><polygon points="1106.5,1712.5 1106.5,1724.5 1104.4,1724.5 1108.7,1732.5 1112.9,1724.5 1110.9,1724.5 1110.9,1712.5" fill="#8c1f1f" stroke="#4a0c0c" stroke-width="0.6" stroke-linejoin="round"/><ellipse cx="1185.1" cy="1679.2" rx="2.6" ry="3.8" transform="rotate(-60 1185.1 1679.2)" fill="#8f969b" stroke="#15181a" stroke-width="2.0"/><polygon points="1182.9,1647.2 1182.9,1659.2 1180.8,1659.2 1185.1,1667.2 1189.3,1659.2 1187.3,1659.2 1187.3,1647.2" fill="#8c1f1f" stroke="#4a0c0c" stroke-width="0.6" stroke-linejoin="round"/><ellipse cx="1151.4" cy="1756.5" rx="2.6" ry="3.8" transform="rotate(-60 1151.4 1756.5)" fill="#8f969b" stroke="#15181a" stroke-width="2.0"/><polygon points="1149.2,1724.5 1149.2,1736.5 1147.1,1736.5 1151.4,1744.5 1155.6,1736.5 1153.6,1736.5 1153.6,1724.5" fill="#8c1f1f" stroke="#4a0c0c" stroke-width="0.6" stroke-linejoin="round"/><ellipse cx="1227.8" cy="1691.2" rx="2.6" ry="3.8" transform="rotate(-60 1227.8 1691.2)" fill="#8f969b" stroke="#15181a" stroke-width="2.0"/><polygon points="1225.6,1659.2 1225.6,1671.2 1223.5,1671.2 1227.8,1679.2 1232.0,1671.2 1230.0,1671.2 1230.0,1659.2" fill="#8c1f1f" stroke="#4a0c0c" stroke-width="0.6" stroke-linejoin="round"/><ellipse cx="1194.0" cy="1768.6" rx="2.6" ry="3.8" transform="rotate(-60 1194.0 1768.6)" fill="#8f969b" stroke="#15181a" stroke-width="2.0"/><polygon points="1191.8,1736.6 1191.8,1748.6 1189.8,1748.6 1194.0,1756.6 1198.3,1748.6 1196.2,1748.6 1196.2,1736.6" fill="#8c1f1f" stroke="#4a0c0c" stroke-width="0.6" stroke-linejoin="round"/><ellipse cx="1270.4" cy="1703.3" rx="2.6" ry="3.8" transform="rotate(-60 1270.4 1703.3)" fill="#8f969b" stroke="#15181a" stroke-width="2.0"/><polygon points="1268.2,1671.3 1268.2,1683.3 1266.2,1683.3 1270.4,1691.3 1274.7,1683.3 1272.6,1683.3 1272.6,1671.3" fill="#8c1f1f" stroke="#4a0c0c" stroke-width="0.6" stroke-linejoin="round"/><ellipse cx="1236.7" cy="1780.6" rx="2.6" ry="3.8" transform="rotate(-60 1236.7 1780.6)" fill="#8f969b" stroke="#15181a" stroke-width="2.0"/><polygon points="1234.5,1748.6 1234.5,1760.6 1232.5,1760.6 1236.7,1768.6 1241.0,1760.6 1238.9,1760.6 1238.9,1748.6" fill="#8c1f1f" stroke="#4a0c0c" stroke-width="0.6" stroke-linejoin="round"/><ellipse cx="1313.1" cy="1715.3" rx="2.6" ry="3.8" transform="rotate(-60 1313.1 1715.3)" fill="#8f969b" stroke="#15181a" stroke-width="2.0"/><polygon points="1310.9,1683.3 1310.9,1695.3 1308.9,1695.3 1313.1,1703.3 1317.4,1695.3 1315.3,1695.3 1315.3,1683.3" fill="#8c1f1f" stroke="#4a0c0c" stroke-width="0.6" stroke-linejoin="round"/><ellipse cx="842.3" cy="1652.0" rx="3.8" ry="2.6" transform="rotate(-40 842.3 1652.0)" fill="#8f969b" stroke="#15181a" stroke-width="2.0"/><polygon points="840.1,1620.0 840.1,1632.0 838.0,1632.0 842.3,1640.0 846.5,1632.0 844.5,1632.0 844.5,1620.0" fill="#8c1f1f" stroke="#4a0c0c" stroke-width="0.6" stroke-linejoin="round"/><ellipse cx="1269.1" cy="1772.3" rx="3.8" ry="2.6" transform="rotate(-40 1269.1 1772.3)" fill="#8f969b" stroke="#15181a" stroke-width="2.0"/><polygon points="1266.9,1740.3 1266.9,1752.3 1264.8,1752.3 1269.1,1760.3 1273.3,1752.3 1271.3,1752.3 1271.3,1740.3" fill="#8c1f1f" stroke="#4a0c0c" stroke-width="0.6" stroke-linejoin="round"/><ellipse cx="867.7" cy="1630.3" rx="3.8" ry="2.6" transform="rotate(-40 867.7 1630.3)" fill="#8f969b" stroke="#15181a" stroke-width="2.0"/><polygon points="865.5,1598.3 865.5,1610.3 863.5,1610.3 867.7,1618.3 872.0,1610.3 869.9,1610.3 869.9,1598.3" fill="#8c1f1f" stroke="#4a0c0c" stroke-width="0.6" stroke-linejoin="round"/><ellipse cx="1294.5" cy="1750.6" rx="3.8" ry="2.6" transform="rotate(-40 1294.5 1750.6)" fill="#8f969b" stroke="#15181a" stroke-width="2.0"/><polygon points="1292.3,1718.6 1292.3,1730.6 1290.3,1730.6 1294.5,1738.6 1298.8,1730.6 1296.7,1730.6 1296.7,1718.6" fill="#8c1f1f" stroke="#4a0c0c" stroke-width="0.6" stroke-linejoin="round"/><ellipse cx="893.2" cy="1608.5" rx="3.8" ry="2.6" transform="rotate(-40 893.2 1608.5)" fill="#8f969b" stroke="#15181a" stroke-width="2.0"/><polygon points="891.0,1576.5 891.0,1588.5 889.0,1588.5 893.2,1596.5 897.5,1588.5 895.4,1588.5 895.4,1576.5" fill="#8c1f1f" stroke="#4a0c0c" stroke-width="0.6" stroke-linejoin="round"/><ellipse cx="1320.0" cy="1728.8" rx="3.8" ry="2.6" transform="rotate(-40 1320.0 1728.8)" fill="#8f969b" stroke="#15181a" stroke-width="2.0"/><polygon points="1317.8,1696.8 1317.8,1708.8 1315.8,1708.8 1320.0,1716.8 1324.3,1708.8 1322.2,1708.8 1322.2,1696.8" fill="#8c1f1f" stroke="#4a0c0c" stroke-width="0.6" stroke-linejoin="round"/><path d="M944.8,1829.5L1021.2,1764.2M944.8,1829.5Q938.8,1826.5 942.8,1834.5M1021.2,1764.2Q1027.2,1761.2 1022.2,1770.2" stroke="#2f3539" stroke-width="2.8" fill="none" stroke-linecap="round"/><path d="M944.8,1829.5L1021.2,1764.2M944.8,1829.5Q938.8,1826.5 942.8,1834.5M1021.2,1764.2Q1027.2,1761.2 1022.2,1770.2" stroke="#e8eaeb" stroke-width="1.1" fill="none" stroke-linecap="round"/><path d="M947.0,1747.0L1023.4,1681.7M947.0,1747.0Q941.0,1744.0 945.0,1752.0M1023.4,1681.7Q1029.4,1678.7 1024.4,1687.7" stroke="#2f3539" stroke-width="2.8" fill="none" stroke-linecap="round"/><path d="M947.0,1747.0L1023.4,1681.7M947.0,1747.0Q941.0,1744.0 945.0,1752.0M1023.4,1681.7Q1029.4,1678.7 1024.4,1687.7" stroke="#e8eaeb" stroke-width="1.1" fill="none" stroke-linecap="round"/><path d="M1136.7,1802.0L1213.1,1736.7M1136.7,1802.0Q1130.7,1799.0 1134.7,1807.0M1213.1,1736.7Q1219.1,1733.7 1214.1,1742.7" stroke="#2f3539" stroke-width="2.8" fill="none" stroke-linecap="round"/><path d="M1136.7,1802.0L1213.1,1736.7M1136.7,1802.0Q1130.7,1799.0 1134.7,1807.0M1213.1,1736.7Q1219.1,1733.7 1214.1,1742.7" stroke="#e8eaeb" stroke-width="1.1" fill="none" stroke-linecap="round"/><path d="M1136.7,1886.8L1213.1,1821.5M1136.7,1886.8Q1130.7,1883.8 1134.7,1891.8M1213.1,1821.5Q1219.1,1818.5 1214.1,1827.5" stroke="#2f3539" stroke-width="2.8" fill="none" stroke-linecap="round"/><path d="M1136.7,1886.8L1213.1,1821.5M1136.7,1886.8Q1130.7,1883.8 1134.7,1891.8M1213.1,1821.5Q1219.1,1818.5 1214.1,1827.5" stroke="#e8eaeb" stroke-width="1.1" fill="none" stroke-linecap="round"/><g style="mix-blend-mode:multiply"><text x="255.0" y="387.6" font-family="Liberation Sans" font-size="33" fill="#e3e3e3" stroke="#fff" stroke-width="0.9" textLength="232" lengthAdjust="spacing">QUALITÄT</text><rect x="212.0" y="396.6" width="317" height="1.6" fill="#e6e6e6"/><text x="299.8" y="425.7" font-family="Liberation Sans" font-weight="bold" font-size="21.5" fill="#e5e5e5" textLength="141" lengthAdjust="spacing">SEIT 1954</text><rect x="166.0" y="380.0" width="10.5" height="10" fill="#e5e5e5"/><rect x="166.0" y="392.0" width="10.5" height="10" fill="#f4e4e4"/><rect x="166.0" y="404.0" width="10.5" height="11" fill="#fcf9ea"/><rect x="178.3" y="380.0" width="10.5" height="10" fill="#e5e5e5"/><rect x="178.3" y="392.0" width="10.5" height="10" fill="#f4e4e4"/><rect x="178.3" y="404.0" width="10.5" height="11" fill="#fcf9ea"/><rect x="190.6" y="380.0" width="10.5" height="10" fill="#e5e5e5"/><rect x="190.6" y="392.0" width="10.5" height="10" fill="#f4e4e4"/><rect x="190.6" y="404.0" width="10.5" height="11" fill="#fcf9ea"/><rect x="542.0" y="380.0" width="10.5" height="10" fill="#e5e5e5"/><rect x="542.0" y="392.0" width="10.5" height="10" fill="#f4e4e4"/><rect x="542.0" y="404.0" width="10.5" height="11" fill="#fcf9ea"/><rect x="554.3" y="380.0" width="10.5" height="10" fill="#e5e5e5"/><rect x="554.3" y="392.0" width="10.5" height="10" fill="#f4e4e4"/><rect x="554.3" y="404.0" width="10.5" height="11" fill="#fcf9ea"/><rect x="566.6" y="380.0" width="10.5" height="10" fill="#e5e5e5"/><rect x="566.6" y="392.0" width="10.5" height="10" fill="#f4e4e4"/><rect x="566.6" y="404.0" width="10.5" height="11" fill="#fcf9ea"/><text x="977.0" y="387.6" font-family="Liberation Sans" font-size="33" fill="#e3e3e3" stroke="#fff" stroke-width="0.9" textLength="232" lengthAdjust="spacing">QUALITÄT</text><rect x="934.0" y="396.6" width="317" height="1.6" fill="#e6e6e6"/><text x="1021.8" y="425.7" font-family="Liberation Sans" font-weight="bold" font-size="21.5" fill="#e5e5e5" textLength="141" lengthAdjust="spacing">SEIT 1954</text><rect x="888.0" y="380.0" width="10.5" height="10" fill="#e5e5e5"/><rect x="888.0" y="392.0" width="10.5" height="10" fill="#f4e4e4"/><rect x="888.0" y="404.0" width="10.5" height="11" fill="#fcf9ea"/><rect x="900.3" y="380.0" width="10.5" height="10" fill="#e5e5e5"/><rect x="900.3" y="392.0" width="10.5" height="10" fill="#f4e4e4"/><rect x="900.3" y="404.0" width="10.5" height="11" fill="#fcf9ea"/><rect x="912.6" y="380.0" width="10.5" height="10" fill="#e5e5e5"/><rect x="912.6" y="392.0" width="10.5" height="10" fill="#f4e4e4"/><rect x="912.6" y="404.0" width="10.5" height="11" fill="#fcf9ea"/><rect x="1264.0" y="380.0" width="10.5" height="10" fill="#e5e5e5"/><rect x="1264.0" y="392.0" width="10.5" height="10" fill="#f4e4e4"/><rect x="1264.0" y="404.0" width="10.5" height="11" fill="#fcf9ea"/><rect x="1276.3" y="380.0" width="10.5" height="10" fill="#e5e5e5"/><rect x="1276.3" y="392.0" width="10.5" height="10" fill="#f4e4e4"/><rect x="1276.3" y="404.0" width="10.5" height="11" fill="#fcf9ea"/><rect x="1288.6" y="380.0" width="10.5" height="10" fill="#e5e5e5"/><rect x="1288.6" y="392.0" width="10.5" height="10" fill="#f4e4e4"/><rect x="1288.6" y="404.0" width="10.5" height="11" fill="#fcf9ea"/><text x="255.0" y="898.6" font-family="Liberation Sans" font-size="33" fill="#e3e3e3" stroke="#fff" stroke-width="0.9" textLength="232" lengthAdjust="spacing">QUALITÄT</text><rect x="212.0" y="907.6" width="317" height="1.6" fill="#e6e6e6"/><text x="299.8" y="936.7" font-family="Liberation Sans" font-weight="bold" font-size="21.5" fill="#e5e5e5" textLength="141" lengthAdjust="spacing">SEIT 1954</text><rect x="166.0" y="891.0" width="10.5" height="10" fill="#e5e5e5"/><rect x="166.0" y="903.0" width="10.5" height="10" fill="#f4e4e4"/><rect x="166.0" y="915.0" width="10.5" height="11" fill="#fcf9ea"/><rect x="178.3" y="891.0" width="10.5" height="10" fill="#e5e5e5"/><rect x="178.3" y="903.0" width="10.5" height="10" fill="#f4e4e4"/><rect x="178.3" y="915.0" width="10.5" height="11" fill="#fcf9ea"/><rect x="190.6" y="891.0" width="10.5" height="10" fill="#e5e5e5"/><rect x="190.6" y="903.0" width="10.5" height="10" fill="#f4e4e4"/><rect x="190.6" y="915.0" width="10.5" height="11" fill="#fcf9ea"/><rect x="542.0" y="891.0" width="10.5" height="10" fill="#e5e5e5"/><rect x="542.0" y="903.0" width="10.5" height="10" fill="#f4e4e4"/><rect x="542.0" y="915.0" width="10.5" height="11" fill="#fcf9ea"/><rect x="554.3" y="891.0" width="10.5" height="10" fill="#e5e5e5"/><rect x="554.3" y="903.0" width="10.5" height="10" fill="#f4e4e4"/><rect x="554.3" y="915.0" width="10.5" height="11" fill="#fcf9ea"/><rect x="566.6" y="891.0" width="10.5" height="10" fill="#e5e5e5"/><rect x="566.6" y="903.0" width="10.5" height="10" fill="#f4e4e4"/><rect x="566.6" y="915.0" width="10.5" height="11" fill="#fcf9ea"/><text x="977.0" y="898.6" font-family="Liberation Sans" font-size="33" fill="#e3e3e3" stroke="#fff" stroke-width="0.9" textLength="232" lengthAdjust="spacing">QUALITÄT</text><rect x="934.0" y="907.6" width="317" height="1.6" fill="#e6e6e6"/><text x="1021.8" y="936.7" font-family="Liberation Sans" font-weight="bold" font-size="21.5" fill="#e5e5e5" textLength="141" lengthAdjust="spacing">SEIT 1954</text><rect x="888.0" y="891.0" width="10.5" height="10" fill="#e5e5e5"/><rect x="888.0" y="903.0" width="10.5" height="10" fill="#f4e4e4"/><rect x="888.0" y="915.0" width="10.5" height="11" fill="#fcf9ea"/><rect x="900.3" y="891.0" width="10.5" height="10" fill="#e5e5e5"/><rect x="900.3" y="903.0" width="10.5" height="10" fill="#f4e4e4"/><rect x="900.3" y="915.0" width="10.5" height="11" fill="#fcf9ea"/><rect x="912.6" y="891.0" width="10.5" height="10" fill="#e5e5e5"/><rect x="912.6" y="903.0" width="10.5" height="10" fill="#f4e4e4"/><rect x="912.6" y="915.0" width="10.5" height="11" fill="#fcf9ea"/><rect x="1264.0" y="891.0" width="10.5" height="10" fill="#e5e5e5"/><rect x="1264.0" y="903.0" width="10.5" height="10" fill="#f4e4e4"/><rect x="1264.0" y="915.0" width="10.5" height="11" fill="#fcf9ea"/><rect x="1276.3" y="891.0" width="10.5" height="10" fill="#e5e5e5"/><rect x="1276.3" y="903.0" width="10.5" height="10" fill="#f4e4e4"/><rect x="1276.3" y="915.0" width="10.5" height="11" fill="#fcf9ea"/><rect x="1288.6" y="891.0" width="10.5" height="10" fill="#e5e5e5"/><rect x="1288.6" y="903.0" width="10.5" height="10" fill="#f4e4e4"/><rect x="1288.6" y="915.0" width="10.5" height="11" fill="#fcf9ea"/><text x="255.0" y="1409.6" font-family="Liberation Sans" font-size="33" fill="#e3e3e3" stroke="#fff" stroke-width="0.9" textLength="232" lengthAdjust="spacing">QUALITÄT</text><rect x="212.0" y="1418.6" width="317" height="1.6" fill="#e6e6e6"/><text x="299.8" y="1447.7" font-family="Liberation Sans" font-weight="bold" font-size="21.5" fill="#e5e5e5" textLength="141" lengthAdjust="spacing">SEIT 1954</text><rect x="166.0" y="1402.0" width="10.5" height="10" fill="#e5e5e5"/><rect x="166.0" y="1414.0" width="10.5" height="10" fill="#f4e4e4"/><rect x="166.0" y="1426.0" width="10.5" height="11" fill="#fcf9ea"/><rect x="178.3" y="1402.0" width="10.5" height="10" fill="#e5e5e5"/><rect x="178.3" y="1414.0" width="10.5" height="10" fill="#f4e4e4"/><rect x="178.3" y="1426.0" width="10.5" height="11" fill="#fcf9ea"/><rect x="190.6" y="1402.0" width="10.5" height="10" fill="#e5e5e5"/><rect x="190.6" y="1414.0" width="10.5" height="10" fill="#f4e4e4"/><rect x="190.6" y="1426.0" width="10.5" height="11" fill="#fcf9ea"/><rect x="542.0" y="1402.0" width="10.5" height="10" fill="#e5e5e5"/><rect x="542.0" y="1414.0" width="10.5" height="10" fill="#f4e4e4"/><rect x="542.0" y="1426.0" width="10.5" height="11" fill="#fcf9ea"/><rect x="554.3" y="1402.0" width="10.5" height="10" fill="#e5e5e5"/><rect x="554.3" y="1414.0" width="10.5" height="10" fill="#f4e4e4"/><rect x="554.3" y="1426.0" width="10.5" height="11" fill="#fcf9ea"/><rect x="566.6" y="1402.0" width="10.5" height="10" fill="#e5e5e5"/><rect x="566.6" y="1414.0" width="10.5" height="10" fill="#f4e4e4"/><rect x="566.6" y="1426.0" width="10.5" height="11" fill="#fcf9ea"/><text x="977.0" y="1409.6" font-family="Liberation Sans" font-size="33" fill="#e3e3e3" stroke="#fff" stroke-width="0.9" textLength="232" lengthAdjust="spacing">QUALITÄT</text><rect x="934.0" y="1418.6" width="317" height="1.6" fill="#e6e6e6"/><text x="1021.8" y="1447.7" font-family="Liberation Sans" font-weight="bold" font-size="21.5" fill="#e5e5e5" textLength="141" lengthAdjust="spacing">SEIT 1954</text><rect x="888.0" y="1402.0" width="10.5" height="10" fill="#e5e5e5"/><rect x="888.0" y="1414.0" width="10.5" height="10" fill="#f4e4e4"/><rect x="888.0" y="1426.0" width="10.5" height="11" fill="#fcf9ea"/><rect x="900.3" y="1402.0" width="10.5" height="10" fill="#e5e5e5"/><rect x="900.3" y="1414.0" width="10.5" height="10" fill="#f4e4e4"/><rect x="900.3" y="1426.0" width="10.5" height="11" fill="#fcf9ea"/><rect x="912.6" y="1402.0" width="10.5" height="10" fill="#e5e5e5"/><rect x="912.6" y="1414.0" width="10.5" height="10" fill="#f4e4e4"/><rect x="912.6" y="1426.0" width="10.5" height="11" fill="#fcf9ea"/><rect x="1264.0" y="1402.0" width="10.5" height="10" fill="#e5e5e5"/><rect x="1264.0" y="1414.0" width="10.5" height="10" fill="#f4e4e4"/><rect x="1264.0" y="1426.0" width="10.5" height="11" fill="#fcf9ea"/><rect x="1276.3" y="1402.0" width="10.5" height="10" fill="#e5e5e5"/><rect x="1276.3" y="1414.0" width="10.5" height="10" fill="#f4e4e4"/><rect x="1276.3" y="1426.0" width="10.5" height="11" fill="#fcf9ea"/><rect x="1288.6" y="1402.0" width="10.5" height="10" fill="#e5e5e5"/><rect x="1288.6" y="1414.0" width="10.5" height="10" fill="#f4e4e4"/><rect x="1288.6" y="1426.0" width="10.5" height="11" fill="#fcf9ea"/><text x="255.0" y="1920.6" font-family="Liberation Sans" font-size="33" fill="#e3e3e3" stroke="#fff" stroke-width="0.9" textLength="232" lengthAdjust="spacing">QUALITÄT</text><rect x="212.0" y="1929.6" width="317" height="1.6" fill="#e6e6e6"/><text x="299.8" y="1958.7" font-family="Liberation Sans" font-weight="bold" font-size="21.5" fill="#e5e5e5" textLength="141" lengthAdjust="spacing">SEIT 1954</text><rect x="166.0" y="1913.0" width="10.5" height="10" fill="#e5e5e5"/><rect x="166.0" y="1925.0" width="10.5" height="10" fill="#f4e4e4"/><rect x="166.0" y="1937.0" width="10.5" height="11" fill="#fcf9ea"/><rect x="178.3" y="1913.0" width="10.5" height="10" fill="#e5e5e5"/><rect x="178.3" y="1925.0" width="10.5" height="10" fill="#f4e4e4"/><rect x="178.3" y="1937.0" width="10.5" height="11" fill="#fcf9ea"/><rect x="190.6" y="1913.0" width="10.5" height="10" fill="#e5e5e5"/><rect x="190.6" y="1925.0" width="10.5" height="10" fill="#f4e4e4"/><rect x="190.6" y="1937.0" width="10.5" height="11" fill="#fcf9ea"/><rect x="542.0" y="1913.0" width="10.5" height="10" fill="#e5e5e5"/><rect x="542.0" y="1925.0" width="10.5" height="10" fill="#f4e4e4"/><rect x="542.0" y="1937.0" width="10.5" height="11" fill="#fcf9ea"/><rect x="554.3" y="1913.0" width="10.5" height="10" fill="#e5e5e5"/><rect x="554.3" y="1925.0" width="10.5" height="10" fill="#f4e4e4"/><rect x="554.3" y="1937.0" width="10.5" height="11" fill="#fcf9ea"/><rect x="566.6" y="1913.0" width="10.5" height="10" fill="#e5e5e5"/><rect x="566.6" y="1925.0" width="10.5" height="10" fill="#f4e4e4"/><rect x="566.6" y="1937.0" width="10.5" height="11" fill="#fcf9ea"/><text x="977.0" y="1920.6" font-family="Liberation Sans" font-size="33" fill="#e3e3e3" stroke="#fff" stroke-width="0.9" textLength="232" lengthAdjust="spacing">QUALITÄT</text><rect x="934.0" y="1929.6" width="317" height="1.6" fill="#e6e6e6"/><text x="1021.8" y="1958.7" font-family="Liberation Sans" font-weight="bold" font-size="21.5" fill="#e5e5e5" textLength="141" lengthAdjust="spacing">SEIT 1954</text><rect x="888.0" y="1913.0" width="10.5" height="10" fill="#e5e5e5"/><rect x="888.0" y="1925.0" width="10.5" height="10" fill="#f4e4e4"/><rect x="888.0" y="1937.0" width="10.5" height="11" fill="#fcf9ea"/><rect x="900.3" y="1913.0" width="10.5" height="10" fill="#e5e5e5"/><rect x="900.3" y="1925.0" width="10.5" height="10" fill="#f4e4e4"/><rect x="900.3" y="1937.0" width="10.5" height="11" fill="#fcf9ea"/><rect x="912.6" y="1913.0" width="10.5" height="10" fill="#e5e5e5"/><rect x="912.6" y="1925.0" width="10.5" height="10" fill="#f4e4e4"/><rect x="912.6" y="1937.0" width="10.5" height="11" fill="#fcf9ea"/><rect x="1264.0" y="1913.0" width="10.5" height="10" fill="#e5e5e5"/><rect x="1264.0" y="1925.0" width="10.5" height="10" fill="#f4e4e4"/><rect x="1264.0" y="1937.0" width="10.5" height="11" fill="#fcf9ea"/><rect x="1276.3" y="1913.0" width="10.5" height="10" fill="#e5e5e5"/><rect x="1276.3" y="1925.0" width="10.5" height="10" fill="#f4e4e4"/><rect x="1276.3" y="1937.0" width="10.5" height="11" fill="#fcf9ea"/><rect x="1288.6" y="1913.0" width="10.5" height="10" fill="#e5e5e5"/><rect x="1288.6" y="1925.0" width="10.5" height="10" fill="#f4e4e4"/><rect x="1288.6" y="1937.0" width="10.5" height="11" fill="#fcf9ea"/></g><rect x="24.0" y="24.0" width="674.5" height="462.5" fill="none" stroke="#5a5a5a" stroke-width="1.3"/><rect x="633.0" y="474.5" width="65.5" height="12" fill="#fff" stroke="#5a5a5a" stroke-width="1.1"/><text x="635.0" y="478.7" font-family="Liberation Sans" font-size="3.2" fill="#777">Seite</text><text x="667.0" y="483.5" font-family="Liberation Sans" font-size="8" fill="#333" text-anchor="middle">1 von 8</text><path d="M679.0,439.1L683.1,439.1L683.1,468.2L679.0,468.2L679.0,444.6L673.3,448.6L671.6,445.6L679.6,439.1Z" fill="#000"/><rect x="746.0" y="24.0" width="674.5" height="462.5" fill="none" stroke="#5a5a5a" stroke-width="1.3"/><rect x="1355.0" y="474.5" width="65.5" height="12" fill="#fff" stroke="#5a5a5a" stroke-width="1.1"/><text x="1357.0" y="478.7" font-family="Liberation Sans" font-size="3.2" fill="#777">Seite</text><text x="1389.0" y="483.5" font-family="Liberation Sans" font-size="8" fill="#333" text-anchor="middle">2 von 8</text><text x="1417.5" y="468.6" font-family="Liberation Sans" font-size="43.5" fill="#000" text-anchor="end">2</text><rect x="24.0" y="535.0" width="674.5" height="462.5" fill="none" stroke="#5a5a5a" stroke-width="1.3"/><rect x="633.0" y="985.5" width="65.5" height="12" fill="#fff" stroke="#5a5a5a" stroke-width="1.1"/><text x="635.0" y="989.7" font-family="Liberation Sans" font-size="3.2" fill="#777">Seite</text><text x="667.0" y="994.5" font-family="Liberation Sans" font-size="8" fill="#333" text-anchor="middle">3 von 8</text><text x="695.5" y="979.6" font-family="Liberation Sans" font-size="43.5" fill="#000" text-anchor="end">3</text><rect x="746.0" y="535.0" width="674.5" height="462.5" fill="none" stroke="#5a5a5a" stroke-width="1.3"/><rect x="1355.0" y="985.5" width="65.5" height="12" fill="#fff" stroke="#5a5a5a" stroke-width="1.1"/><text x="1357.0" y="989.7" font-family="Liberation Sans" font-size="3.2" fill="#777">Seite</text><text x="1389.0" y="994.5" font-family="Liberation Sans" font-size="8" fill="#333" text-anchor="middle">4 von 8</text><text x="1417.5" y="979.6" font-family="Liberation Sans" font-size="43.5" fill="#000" text-anchor="end">4</text><rect x="24.0" y="1046.0" width="674.5" height="462.5" fill="none" stroke="#5a5a5a" stroke-width="1.3"/><rect x="633.0" y="1496.5" width="65.5" height="12" fill="#fff" stroke="#5a5a5a" stroke-width="1.1"/><text x="635.0" y="1500.7" font-family="Liberation Sans" font-size="3.2" fill="#777">Seite</text><text x="667.0" y="1505.5" font-family="Liberation Sans" font-size="8" fill="#333" text-anchor="middle">5 von 8</text><text x="695.5" y="1490.6" font-family="Liberation Sans" font-size="43.5" fill="#000" text-anchor="end">5</text><rect x="746.0" y="1046.0" width="674.5" height="462.5" fill="none" stroke="#5a5a5a" stroke-width="1.3"/><rect x="1355.0" y="1496.5" width="65.5" height="12" fill="#fff" stroke="#5a5a5a" stroke-width="1.1"/><text x="1357.0" y="1500.7" font-family="Liberation Sans" font-size="3.2" fill="#777">Seite</text><text x="1389.0" y="1505.5" font-family="Liberation Sans" font-size="8" fill="#333" text-anchor="middle">6 von 8</text><text x="1417.5" y="1490.6" font-family="Liberation Sans" font-size="43.5" fill="#000" text-anchor="end">6</text><rect x="24.0" y="1557.0" width="674.5" height="462.5" fill="none" stroke="#5a5a5a" stroke-width="1.3"/><rect x="633.0" y="2007.5" width="65.5" height="12" fill="#fff" stroke="#5a5a5a" stroke-width="1.1"/><text x="635.0" y="2011.7" font-family="Liberation Sans" font-size="3.2" fill="#777">Seite</text><text x="667.0" y="2016.5" font-family="Liberation Sans" font-size="8" fill="#333" text-anchor="middle">7 von 8</text><text x="695.5" y="2001.6" font-family="Liberation Sans" font-size="43.5" fill="#000" text-anchor="end">7</text><rect x="746.0" y="1557.0" width="674.5" height="462.5" fill="none" stroke="#5a5a5a" stroke-width="1.3"/><rect x="1355.0" y="2007.5" width="65.5" height="12" fill="#fff" stroke="#5a5a5a" stroke-width="1.1"/><text x="1357.0" y="2011.7" font-family="Liberation Sans" font-size="3.2" fill="#777">Seite</text><text x="1389.0" y="2016.5" font-family="Liberation Sans" font-size="8" fill="#333" text-anchor="middle">8 von 8</text><text x="1417.5" y="2001.6" font-family="Liberation Sans" font-size="43.5" fill="#000" text-anchor="end">8</text></svg></body></html>
